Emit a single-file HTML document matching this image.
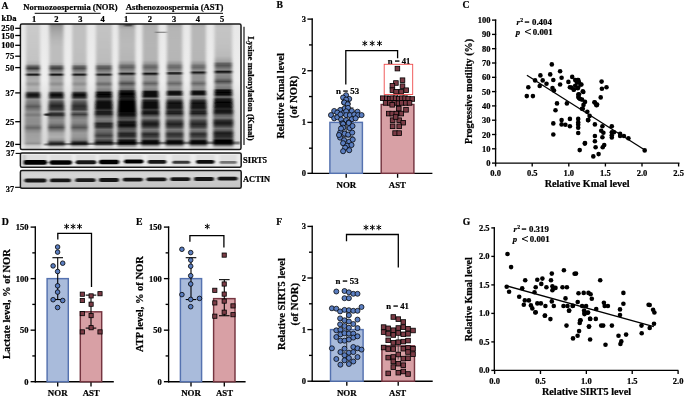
<!DOCTYPE html>
<html><head><meta charset="utf-8"><style>
html,body{margin:0;padding:0;background:#fff;width:685px;height:397px;overflow:hidden}
svg{display:block;will-change:transform}
text{font-family:'Liberation Serif',serif;font-weight:bold;fill:#000;stroke:#000;stroke-width:0.22px}
</style></head><body>
<svg width="685" height="397" viewBox="0 0 685 397">
<rect width="685" height="397" fill="#fff"/>
<defs><linearGradient id="lg_l" x1="0" y1="0" x2="0" y2="1"><stop offset="0" stop-color="#c2c2c2"/><stop offset="0.35" stop-color="#c4c4c4"/><stop offset="0.6" stop-color="#b0b0b0"/><stop offset="0.95" stop-color="#b8b8b8"/><stop offset="1" stop-color="#d8d8d8"/></linearGradient><linearGradient id="lg_d" x1="0" y1="0" x2="0" y2="1"><stop offset="0" stop-color="#bdbdbd"/><stop offset="0.35" stop-color="#c0c0c0"/><stop offset="0.6" stop-color="#8a8a8a"/><stop offset="0.95" stop-color="#909090"/><stop offset="1" stop-color="#d0d0d0"/></linearGradient><linearGradient id="acg" x1="0" y1="0" x2="0" y2="1"><stop offset="0" stop-color="#cfcfcf"/><stop offset="0.3" stop-color="#d6d6d6"/><stop offset="0.55" stop-color="#cacaca"/><stop offset="1" stop-color="#c4c4c4"/></linearGradient></defs>
<defs><filter id="bh" x="-30%" y="-5%" width="160%" height="110%"><feGaussianBlur stdDeviation="1.45 0.45"/></filter><filter id="bs" x="-20%" y="-60%" width="140%" height="220%"><feGaussianBlur stdDeviation="1.0 0.6"/></filter><clipPath id="cm"><rect x="20.4" y="23.9" width="220.6" height="125.69999999999999" rx="1.5"/></clipPath><clipPath id="cs"><rect x="20.4" y="153.0" width="220.8" height="14.3" rx="1.5"/></clipPath><clipPath id="ca"><rect x="20.4" y="170.5" width="220.8" height="17.8" rx="1.5"/></clipPath><linearGradient id="bgv" x1="0" y1="0" x2="0" y2="1"><stop offset="0" stop-color="#e8e8e8"/><stop offset="0.45" stop-color="#eeeeee"/><stop offset="0.62" stop-color="#e0e0e0"/><stop offset="0.93" stop-color="#d8d8d8"/><stop offset="1" stop-color="#ececec"/></linearGradient><linearGradient id="pg_n1" gradientUnits="userSpaceOnUse" x1="0" y1="23.9" x2="0" y2="149.6"><stop offset="0.0000" stop-color="rgb(205,205,205)"/><stop offset="0.0247" stop-color="rgb(202,202,202)"/><stop offset="0.1679" stop-color="rgb(199,199,199)"/><stop offset="0.2872" stop-color="rgb(195,195,195)"/><stop offset="0.3190" stop-color="rgb(180,180,180)"/><stop offset="0.3349" stop-color="rgb(105,105,105)"/><stop offset="0.3540" stop-color="rgb(55,55,55)"/><stop offset="0.3707" stop-color="rgb(120,120,120)"/><stop offset="0.3906" stop-color="rgb(160,160,160)"/><stop offset="0.3986" stop-color="rgb(40,40,40)"/><stop offset="0.4033" stop-color="rgb(25,25,25)"/><stop offset="0.4097" stop-color="rgb(60,60,60)"/><stop offset="0.4193" stop-color="rgb(165,165,165)"/><stop offset="0.4543" stop-color="rgb(175,175,175)"/><stop offset="0.4781" stop-color="rgb(150,150,150)"/><stop offset="0.5020" stop-color="rgb(178,178,178)"/><stop offset="0.5338" stop-color="rgb(170,170,170)"/><stop offset="0.5481" stop-color="rgb(60,60,60)"/><stop offset="0.5656" stop-color="rgb(10,10,10)"/><stop offset="0.5831" stop-color="rgb(45,45,45)"/><stop offset="0.5990" stop-color="rgb(141,141,141)"/><stop offset="0.6333" stop-color="rgb(120,120,120)"/><stop offset="0.6571" stop-color="rgb(90,90,90)"/><stop offset="0.6810" stop-color="rgb(120,120,120)"/><stop offset="0.7009" stop-color="rgb(144,144,144)"/><stop offset="0.7247" stop-color="rgb(120,120,120)"/><stop offset="0.7446" stop-color="rgb(144,144,144)"/><stop offset="0.7963" stop-color="rgb(141,141,141)"/><stop offset="0.8266" stop-color="rgb(103,103,103)"/><stop offset="0.8481" stop-color="rgb(137,137,137)"/><stop offset="0.8759" stop-color="rgb(159,159,159)"/><stop offset="0.9316" stop-color="rgb(163,163,163)"/><stop offset="0.9515" stop-color="rgb(147,147,147)"/><stop offset="0.9714" stop-color="rgb(205,205,205)"/><stop offset="1.0000" stop-color="rgb(215,215,215)"/></linearGradient><linearGradient id="pg_n2" gradientUnits="userSpaceOnUse" x1="0" y1="23.9" x2="0" y2="149.6"><stop offset="0.0000" stop-color="rgb(135,135,135)"/><stop offset="0.0247" stop-color="rgb(155,155,155)"/><stop offset="0.0724" stop-color="rgb(170,170,170)"/><stop offset="0.1281" stop-color="rgb(183,183,183)"/><stop offset="0.1838" stop-color="rgb(189,189,189)"/><stop offset="0.3031" stop-color="rgb(189,189,189)"/><stop offset="0.3230" stop-color="rgb(170,170,170)"/><stop offset="0.3349" stop-color="rgb(100,100,100)"/><stop offset="0.3540" stop-color="rgb(60,60,60)"/><stop offset="0.3707" stop-color="rgb(115,115,115)"/><stop offset="0.3906" stop-color="rgb(155,155,155)"/><stop offset="0.3986" stop-color="rgb(35,35,35)"/><stop offset="0.4033" stop-color="rgb(20,20,20)"/><stop offset="0.4097" stop-color="rgb(55,55,55)"/><stop offset="0.4193" stop-color="rgb(155,155,155)"/><stop offset="0.4543" stop-color="rgb(165,165,165)"/><stop offset="0.4781" stop-color="rgb(140,140,140)"/><stop offset="0.5020" stop-color="rgb(170,170,170)"/><stop offset="0.5338" stop-color="rgb(160,160,160)"/><stop offset="0.5481" stop-color="rgb(45,45,45)"/><stop offset="0.5656" stop-color="rgb(5,5,5)"/><stop offset="0.5847" stop-color="rgb(40,40,40)"/><stop offset="0.6014" stop-color="rgb(129,129,129)"/><stop offset="0.6213" stop-color="rgb(77,77,77)"/><stop offset="0.6531" stop-color="rgb(35,35,35)"/><stop offset="0.6810" stop-color="rgb(60,60,60)"/><stop offset="0.6969" stop-color="rgb(120,120,120)"/><stop offset="0.7128" stop-color="rgb(50,50,50)"/><stop offset="0.7263" stop-color="rgb(40,40,40)"/><stop offset="0.7407" stop-color="rgb(111,111,111)"/><stop offset="0.7645" stop-color="rgb(141,141,141)"/><stop offset="0.7884" stop-color="rgb(133,133,133)"/><stop offset="0.8242" stop-color="rgb(77,77,77)"/><stop offset="0.8441" stop-color="rgb(120,120,120)"/><stop offset="0.8679" stop-color="rgb(163,163,163)"/><stop offset="0.8998" stop-color="rgb(176,176,176)"/><stop offset="0.9236" stop-color="rgb(150,150,150)"/><stop offset="0.9435" stop-color="rgb(60,60,60)"/><stop offset="0.9539" stop-color="rgb(45,45,45)"/><stop offset="0.9658" stop-color="rgb(129,129,129)"/><stop offset="0.9793" stop-color="rgb(205,205,205)"/><stop offset="1.0000" stop-color="rgb(220,220,220)"/></linearGradient><linearGradient id="pg_n3" gradientUnits="userSpaceOnUse" x1="0" y1="23.9" x2="0" y2="149.6"><stop offset="0.0000" stop-color="rgb(185,185,185)"/><stop offset="0.0326" stop-color="rgb(192,192,192)"/><stop offset="0.1679" stop-color="rgb(192,192,192)"/><stop offset="0.3031" stop-color="rgb(189,189,189)"/><stop offset="0.3230" stop-color="rgb(170,170,170)"/><stop offset="0.3349" stop-color="rgb(105,105,105)"/><stop offset="0.3540" stop-color="rgb(75,75,75)"/><stop offset="0.3707" stop-color="rgb(120,120,120)"/><stop offset="0.3906" stop-color="rgb(155,155,155)"/><stop offset="0.3986" stop-color="rgb(40,40,40)"/><stop offset="0.4033" stop-color="rgb(25,25,25)"/><stop offset="0.4097" stop-color="rgb(60,60,60)"/><stop offset="0.4193" stop-color="rgb(155,155,155)"/><stop offset="0.4543" stop-color="rgb(165,165,165)"/><stop offset="0.4781" stop-color="rgb(140,140,140)"/><stop offset="0.5020" stop-color="rgb(170,170,170)"/><stop offset="0.5338" stop-color="rgb(160,160,160)"/><stop offset="0.5481" stop-color="rgb(45,45,45)"/><stop offset="0.5656" stop-color="rgb(5,5,5)"/><stop offset="0.5847" stop-color="rgb(40,40,40)"/><stop offset="0.6014" stop-color="rgb(129,129,129)"/><stop offset="0.6213" stop-color="rgb(86,86,86)"/><stop offset="0.6531" stop-color="rgb(45,45,45)"/><stop offset="0.6810" stop-color="rgb(60,60,60)"/><stop offset="0.6969" stop-color="rgb(120,120,120)"/><stop offset="0.7208" stop-color="rgb(60,60,60)"/><stop offset="0.7407" stop-color="rgb(120,120,120)"/><stop offset="0.7645" stop-color="rgb(141,141,141)"/><stop offset="0.7884" stop-color="rgb(133,133,133)"/><stop offset="0.8242" stop-color="rgb(86,86,86)"/><stop offset="0.8441" stop-color="rgb(124,124,124)"/><stop offset="0.8679" stop-color="rgb(154,154,154)"/><stop offset="0.8998" stop-color="rgb(150,150,150)"/><stop offset="0.9236" stop-color="rgb(129,129,129)"/><stop offset="0.9419" stop-color="rgb(40,40,40)"/><stop offset="0.9539" stop-color="rgb(30,30,30)"/><stop offset="0.9658" stop-color="rgb(129,129,129)"/><stop offset="0.9793" stop-color="rgb(205,205,205)"/><stop offset="1.0000" stop-color="rgb(220,220,220)"/></linearGradient><linearGradient id="pg_n4" gradientUnits="userSpaceOnUse" x1="0" y1="23.9" x2="0" y2="149.6"><stop offset="0.0000" stop-color="rgb(190,190,190)"/><stop offset="0.0326" stop-color="rgb(195,195,195)"/><stop offset="0.1679" stop-color="rgb(192,192,192)"/><stop offset="0.3031" stop-color="rgb(187,187,187)"/><stop offset="0.3230" stop-color="rgb(165,165,165)"/><stop offset="0.3349" stop-color="rgb(105,105,105)"/><stop offset="0.3540" stop-color="rgb(85,85,85)"/><stop offset="0.3707" stop-color="rgb(120,120,120)"/><stop offset="0.3906" stop-color="rgb(150,150,150)"/><stop offset="0.3986" stop-color="rgb(45,45,45)"/><stop offset="0.4033" stop-color="rgb(30,30,30)"/><stop offset="0.4097" stop-color="rgb(65,65,65)"/><stop offset="0.4193" stop-color="rgb(150,150,150)"/><stop offset="0.4543" stop-color="rgb(150,150,150)"/><stop offset="0.4781" stop-color="rgb(105,105,105)"/><stop offset="0.5020" stop-color="rgb(150,150,150)"/><stop offset="0.5322" stop-color="rgb(120,120,120)"/><stop offset="0.5434" stop-color="rgb(20,20,20)"/><stop offset="0.5609" stop-color="rgb(0,0,0)"/><stop offset="0.5800" stop-color="rgb(15,15,15)"/><stop offset="0.5975" stop-color="rgb(77,77,77)"/><stop offset="0.6173" stop-color="rgb(20,20,20)"/><stop offset="0.6452" stop-color="rgb(5,5,5)"/><stop offset="0.6730" stop-color="rgb(20,20,20)"/><stop offset="0.6866" stop-color="rgb(60,60,60)"/><stop offset="0.6969" stop-color="rgb(30,30,30)"/><stop offset="0.7168" stop-color="rgb(25,25,25)"/><stop offset="0.7327" stop-color="rgb(86,86,86)"/><stop offset="0.7566" stop-color="rgb(129,129,129)"/><stop offset="0.7765" stop-color="rgb(111,111,111)"/><stop offset="0.7932" stop-color="rgb(35,35,35)"/><stop offset="0.8202" stop-color="rgb(45,45,45)"/><stop offset="0.8401" stop-color="rgb(111,111,111)"/><stop offset="0.8600" stop-color="rgb(103,103,103)"/><stop offset="0.8878" stop-color="rgb(60,60,60)"/><stop offset="0.9117" stop-color="rgb(103,103,103)"/><stop offset="0.9316" stop-color="rgb(60,60,60)"/><stop offset="0.9451" stop-color="rgb(15,15,15)"/><stop offset="0.9594" stop-color="rgb(94,94,94)"/><stop offset="0.9753" stop-color="rgb(200,200,200)"/><stop offset="1.0000" stop-color="rgb(215,215,215)"/></linearGradient><linearGradient id="pg_a1" gradientUnits="userSpaceOnUse" x1="0" y1="23.9" x2="0" y2="149.6"><stop offset="0.0000" stop-color="rgb(120,120,120)"/><stop offset="0.0167" stop-color="rgb(161,161,161)"/><stop offset="0.0485" stop-color="rgb(181,181,181)"/><stop offset="0.1679" stop-color="rgb(186,186,186)"/><stop offset="0.2872" stop-color="rgb(181,181,181)"/><stop offset="0.3150" stop-color="rgb(150,150,150)"/><stop offset="0.3309" stop-color="rgb(110,110,110)"/><stop offset="0.3461" stop-color="rgb(95,95,95)"/><stop offset="0.3652" stop-color="rgb(130,130,130)"/><stop offset="0.3835" stop-color="rgb(150,150,150)"/><stop offset="0.3914" stop-color="rgb(35,35,35)"/><stop offset="0.3962" stop-color="rgb(25,25,25)"/><stop offset="0.4033" stop-color="rgb(70,70,70)"/><stop offset="0.4145" stop-color="rgb(150,150,150)"/><stop offset="0.4463" stop-color="rgb(140,140,140)"/><stop offset="0.4741" stop-color="rgb(80,80,80)"/><stop offset="0.5020" stop-color="rgb(135,135,135)"/><stop offset="0.5219" stop-color="rgb(110,110,110)"/><stop offset="0.5322" stop-color="rgb(25,25,25)"/><stop offset="0.5537" stop-color="rgb(0,0,0)"/><stop offset="0.5831" stop-color="rgb(15,15,15)"/><stop offset="0.5975" stop-color="rgb(30,30,30)"/><stop offset="0.6134" stop-color="rgb(5,5,5)"/><stop offset="0.6850" stop-color="rgb(0,0,0)"/><stop offset="0.7088" stop-color="rgb(10,10,10)"/><stop offset="0.7287" stop-color="rgb(20,20,20)"/><stop offset="0.7446" stop-color="rgb(68,68,68)"/><stop offset="0.7645" stop-color="rgb(86,86,86)"/><stop offset="0.7804" stop-color="rgb(20,20,20)"/><stop offset="0.8123" stop-color="rgb(15,15,15)"/><stop offset="0.8321" stop-color="rgb(77,77,77)"/><stop offset="0.8520" stop-color="rgb(94,94,94)"/><stop offset="0.8719" stop-color="rgb(40,40,40)"/><stop offset="0.8918" stop-color="rgb(40,40,40)"/><stop offset="0.9117" stop-color="rgb(94,94,94)"/><stop offset="0.9284" stop-color="rgb(15,15,15)"/><stop offset="0.9435" stop-color="rgb(0,0,0)"/><stop offset="0.9554" stop-color="rgb(20,20,20)"/><stop offset="0.9674" stop-color="rgb(129,129,129)"/><stop offset="0.9833" stop-color="rgb(200,200,200)"/><stop offset="1.0000" stop-color="rgb(210,210,210)"/></linearGradient><linearGradient id="pg_a2" gradientUnits="userSpaceOnUse" x1="0" y1="23.9" x2="0" y2="149.6"><stop offset="0.0000" stop-color="rgb(170,170,170)"/><stop offset="0.0326" stop-color="rgb(179,179,179)"/><stop offset="0.1679" stop-color="rgb(181,181,181)"/><stop offset="0.2872" stop-color="rgb(179,179,179)"/><stop offset="0.3150" stop-color="rgb(150,150,150)"/><stop offset="0.3309" stop-color="rgb(115,115,115)"/><stop offset="0.3461" stop-color="rgb(100,100,100)"/><stop offset="0.3652" stop-color="rgb(130,130,130)"/><stop offset="0.3835" stop-color="rgb(150,150,150)"/><stop offset="0.3914" stop-color="rgb(35,35,35)"/><stop offset="0.3962" stop-color="rgb(20,20,20)"/><stop offset="0.4033" stop-color="rgb(60,60,60)"/><stop offset="0.4145" stop-color="rgb(150,150,150)"/><stop offset="0.4463" stop-color="rgb(150,150,150)"/><stop offset="0.4741" stop-color="rgb(100,100,100)"/><stop offset="0.5020" stop-color="rgb(150,150,150)"/><stop offset="0.5259" stop-color="rgb(130,130,130)"/><stop offset="0.5378" stop-color="rgb(20,20,20)"/><stop offset="0.5577" stop-color="rgb(5,5,5)"/><stop offset="0.5776" stop-color="rgb(25,25,25)"/><stop offset="0.5935" stop-color="rgb(120,120,120)"/><stop offset="0.6094" stop-color="rgb(40,40,40)"/><stop offset="0.6293" stop-color="rgb(8,8,8)"/><stop offset="0.6691" stop-color="rgb(15,15,15)"/><stop offset="0.6834" stop-color="rgb(60,60,60)"/><stop offset="0.6945" stop-color="rgb(30,30,30)"/><stop offset="0.7128" stop-color="rgb(20,20,20)"/><stop offset="0.7287" stop-color="rgb(77,77,77)"/><stop offset="0.7486" stop-color="rgb(129,129,129)"/><stop offset="0.7725" stop-color="rgb(60,60,60)"/><stop offset="0.7963" stop-color="rgb(20,20,20)"/><stop offset="0.8202" stop-color="rgb(60,60,60)"/><stop offset="0.8401" stop-color="rgb(120,120,120)"/><stop offset="0.8560" stop-color="rgb(103,103,103)"/><stop offset="0.8759" stop-color="rgb(40,40,40)"/><stop offset="0.8958" stop-color="rgb(60,60,60)"/><stop offset="0.9157" stop-color="rgb(103,103,103)"/><stop offset="0.9300" stop-color="rgb(15,15,15)"/><stop offset="0.9491" stop-color="rgb(5,5,5)"/><stop offset="0.9634" stop-color="rgb(103,103,103)"/><stop offset="0.9793" stop-color="rgb(200,200,200)"/><stop offset="1.0000" stop-color="rgb(215,215,215)"/></linearGradient><linearGradient id="pg_a3" gradientUnits="userSpaceOnUse" x1="0" y1="23.9" x2="0" y2="149.6"><stop offset="0.0000" stop-color="rgb(165,165,165)"/><stop offset="0.0326" stop-color="rgb(181,181,181)"/><stop offset="0.1679" stop-color="rgb(183,183,183)"/><stop offset="0.2872" stop-color="rgb(181,181,181)"/><stop offset="0.3150" stop-color="rgb(150,150,150)"/><stop offset="0.3309" stop-color="rgb(115,115,115)"/><stop offset="0.3461" stop-color="rgb(105,105,105)"/><stop offset="0.3628" stop-color="rgb(130,130,130)"/><stop offset="0.3795" stop-color="rgb(150,150,150)"/><stop offset="0.3874" stop-color="rgb(40,40,40)"/><stop offset="0.3922" stop-color="rgb(25,25,25)"/><stop offset="0.3994" stop-color="rgb(65,65,65)"/><stop offset="0.4105" stop-color="rgb(150,150,150)"/><stop offset="0.4463" stop-color="rgb(150,150,150)"/><stop offset="0.4741" stop-color="rgb(105,105,105)"/><stop offset="0.5020" stop-color="rgb(150,150,150)"/><stop offset="0.5259" stop-color="rgb(140,140,140)"/><stop offset="0.5362" stop-color="rgb(30,30,30)"/><stop offset="0.5513" stop-color="rgb(8,8,8)"/><stop offset="0.5656" stop-color="rgb(30,30,30)"/><stop offset="0.5776" stop-color="rgb(150,150,150)"/><stop offset="0.5935" stop-color="rgb(129,129,129)"/><stop offset="0.6118" stop-color="rgb(50,50,50)"/><stop offset="0.6293" stop-color="rgb(15,15,15)"/><stop offset="0.6691" stop-color="rgb(25,25,25)"/><stop offset="0.6834" stop-color="rgb(60,60,60)"/><stop offset="0.6945" stop-color="rgb(35,35,35)"/><stop offset="0.7128" stop-color="rgb(30,30,30)"/><stop offset="0.7287" stop-color="rgb(86,86,86)"/><stop offset="0.7486" stop-color="rgb(129,129,129)"/><stop offset="0.7725" stop-color="rgb(68,68,68)"/><stop offset="0.7963" stop-color="rgb(30,30,30)"/><stop offset="0.8202" stop-color="rgb(60,60,60)"/><stop offset="0.8401" stop-color="rgb(120,120,120)"/><stop offset="0.8560" stop-color="rgb(103,103,103)"/><stop offset="0.8759" stop-color="rgb(45,45,45)"/><stop offset="0.8958" stop-color="rgb(64,64,64)"/><stop offset="0.9157" stop-color="rgb(103,103,103)"/><stop offset="0.9300" stop-color="rgb(20,20,20)"/><stop offset="0.9491" stop-color="rgb(10,10,10)"/><stop offset="0.9634" stop-color="rgb(103,103,103)"/><stop offset="0.9793" stop-color="rgb(200,200,200)"/><stop offset="1.0000" stop-color="rgb(215,215,215)"/></linearGradient><linearGradient id="pg_a4" gradientUnits="userSpaceOnUse" x1="0" y1="23.9" x2="0" y2="149.6"><stop offset="0.0000" stop-color="rgb(170,170,170)"/><stop offset="0.0326" stop-color="rgb(183,183,183)"/><stop offset="0.1679" stop-color="rgb(183,183,183)"/><stop offset="0.2872" stop-color="rgb(181,181,181)"/><stop offset="0.3150" stop-color="rgb(150,150,150)"/><stop offset="0.3309" stop-color="rgb(115,115,115)"/><stop offset="0.3461" stop-color="rgb(105,105,105)"/><stop offset="0.3612" stop-color="rgb(130,130,130)"/><stop offset="0.3747" stop-color="rgb(150,150,150)"/><stop offset="0.3811" stop-color="rgb(40,40,40)"/><stop offset="0.3858" stop-color="rgb(25,25,25)"/><stop offset="0.3930" stop-color="rgb(65,65,65)"/><stop offset="0.4065" stop-color="rgb(150,150,150)"/><stop offset="0.4463" stop-color="rgb(150,150,150)"/><stop offset="0.4741" stop-color="rgb(105,105,105)"/><stop offset="0.5020" stop-color="rgb(150,150,150)"/><stop offset="0.5243" stop-color="rgb(140,140,140)"/><stop offset="0.5346" stop-color="rgb(30,30,30)"/><stop offset="0.5489" stop-color="rgb(8,8,8)"/><stop offset="0.5632" stop-color="rgb(30,30,30)"/><stop offset="0.5752" stop-color="rgb(150,150,150)"/><stop offset="0.5935" stop-color="rgb(129,129,129)"/><stop offset="0.6094" stop-color="rgb(50,50,50)"/><stop offset="0.6293" stop-color="rgb(15,15,15)"/><stop offset="0.6691" stop-color="rgb(25,25,25)"/><stop offset="0.6834" stop-color="rgb(60,60,60)"/><stop offset="0.6945" stop-color="rgb(35,35,35)"/><stop offset="0.7128" stop-color="rgb(30,30,30)"/><stop offset="0.7287" stop-color="rgb(86,86,86)"/><stop offset="0.7486" stop-color="rgb(129,129,129)"/><stop offset="0.7725" stop-color="rgb(68,68,68)"/><stop offset="0.7963" stop-color="rgb(35,35,35)"/><stop offset="0.8202" stop-color="rgb(60,60,60)"/><stop offset="0.8401" stop-color="rgb(120,120,120)"/><stop offset="0.8560" stop-color="rgb(103,103,103)"/><stop offset="0.8759" stop-color="rgb(40,40,40)"/><stop offset="0.8958" stop-color="rgb(64,64,64)"/><stop offset="0.9157" stop-color="rgb(103,103,103)"/><stop offset="0.9300" stop-color="rgb(15,15,15)"/><stop offset="0.9491" stop-color="rgb(8,8,8)"/><stop offset="0.9634" stop-color="rgb(103,103,103)"/><stop offset="0.9793" stop-color="rgb(200,200,200)"/><stop offset="1.0000" stop-color="rgb(215,215,215)"/></linearGradient><linearGradient id="pg_a5" gradientUnits="userSpaceOnUse" x1="0" y1="23.9" x2="0" y2="149.6"><stop offset="0.0000" stop-color="rgb(185,185,185)"/><stop offset="0.0326" stop-color="rgb(196,196,196)"/><stop offset="0.1679" stop-color="rgb(193,193,193)"/><stop offset="0.2554" stop-color="rgb(186,186,186)"/><stop offset="0.2991" stop-color="rgb(161,161,161)"/><stop offset="0.3150" stop-color="rgb(100,100,100)"/><stop offset="0.3309" stop-color="rgb(85,85,85)"/><stop offset="0.3508" stop-color="rgb(115,115,115)"/><stop offset="0.3683" stop-color="rgb(140,140,140)"/><stop offset="0.3747" stop-color="rgb(30,30,30)"/><stop offset="0.3803" stop-color="rgb(15,15,15)"/><stop offset="0.3874" stop-color="rgb(50,50,50)"/><stop offset="0.4002" stop-color="rgb(140,140,140)"/><stop offset="0.4304" stop-color="rgb(130,130,130)"/><stop offset="0.4582" stop-color="rgb(75,75,75)"/><stop offset="0.4861" stop-color="rgb(140,140,140)"/><stop offset="0.5139" stop-color="rgb(120,120,120)"/><stop offset="0.5259" stop-color="rgb(20,20,20)"/><stop offset="0.5457" stop-color="rgb(5,5,5)"/><stop offset="0.5656" stop-color="rgb(20,20,20)"/><stop offset="0.5815" stop-color="rgb(120,120,120)"/><stop offset="0.5975" stop-color="rgb(30,30,30)"/><stop offset="0.6213" stop-color="rgb(5,5,5)"/><stop offset="0.6611" stop-color="rgb(10,10,10)"/><stop offset="0.6770" stop-color="rgb(40,40,40)"/><stop offset="0.6889" stop-color="rgb(20,20,20)"/><stop offset="0.7088" stop-color="rgb(30,30,30)"/><stop offset="0.7247" stop-color="rgb(94,94,94)"/><stop offset="0.7486" stop-color="rgb(120,120,120)"/><stop offset="0.7685" stop-color="rgb(50,50,50)"/><stop offset="0.7884" stop-color="rgb(20,20,20)"/><stop offset="0.8123" stop-color="rgb(60,60,60)"/><stop offset="0.8321" stop-color="rgb(111,111,111)"/><stop offset="0.8481" stop-color="rgb(86,86,86)"/><stop offset="0.8679" stop-color="rgb(25,25,25)"/><stop offset="0.8918" stop-color="rgb(40,40,40)"/><stop offset="0.9117" stop-color="rgb(60,60,60)"/><stop offset="0.9276" stop-color="rgb(5,5,5)"/><stop offset="0.9499" stop-color="rgb(0,0,0)"/><stop offset="0.9634" stop-color="rgb(86,86,86)"/><stop offset="0.9793" stop-color="rgb(190,190,190)"/><stop offset="1.0000" stop-color="rgb(210,210,210)"/></linearGradient></defs>
<g clip-path="url(#cm)">
<rect x="20.4" y="23.9" width="220.6" height="125.69999999999999" fill="url(#bgv)"/>
<g filter="url(#bh)">
<path d="M26.0,21.9 L40.0,21.9 L40.0,90 L41.3,115 L41.3,151.6 L24.7,151.6 L24.7,115 L26.0,90 Z" fill="url(#pg_n1)"/>
<path d="M49.3,21.9 L63.5,21.9 L63.5,90 L64.8,115 L64.8,151.6 L48.0,151.6 L48.0,115 L49.3,90 Z" fill="url(#pg_n2)"/>
<path d="M72.2,21.9 L86.6,21.9 L86.6,90 L87.9,115 L87.9,151.6 L70.9,151.6 L70.9,115 L72.2,90 Z" fill="url(#pg_n3)"/>
<path d="M95.9,21.9 L111.9,21.9 L111.9,90 L113.2,115 L113.2,151.6 L94.6,151.6 L94.6,115 L95.9,90 Z" fill="url(#pg_n4)"/>
<path d="M118.7,21.9 L135.3,21.9 L135.3,90 L136.6,115 L136.6,151.6 L117.4,151.6 L117.4,115 L118.7,90 Z" fill="url(#pg_a1)"/>
<path d="M142.5,21.9 L158.3,21.9 L158.3,90 L159.6,115 L159.6,151.6 L141.2,151.6 L141.2,115 L142.5,90 Z" fill="url(#pg_a2)"/>
<path d="M166.9,21.9 L182.3,21.9 L182.3,90 L183.6,115 L183.6,151.6 L165.6,151.6 L165.6,115 L166.9,90 Z" fill="url(#pg_a3)"/>
<path d="M190.9,21.9 L205.9,21.9 L205.9,90 L207.2,115 L207.2,151.6 L189.6,151.6 L189.6,115 L190.9,90 Z" fill="url(#pg_a4)"/>
<path d="M214.5,21.9 L232.1,21.9 L232.1,90 L233.4,115 L233.4,151.6 L213.2,151.6 L213.2,115 L214.5,90 Z" fill="url(#pg_a5)"/>
</g>
<g filter="url(#bs)">
<path d="M44,143.6 Q140,141.2 240,141.6 L240,144.4 Q140,144.2 44,145.6 Z" fill="#000" opacity="0.45"/>
<rect x="155.5" y="31.7" width="11" height="1.2" fill="#222" opacity="0.5"/>
<rect x="124.5" y="24" width="7.5" height="2.4" fill="#222" opacity="0.6"/>
<rect x="44" y="113.5" width="6" height="2.2" rx="1" fill="#000" opacity="0.8"/>
</g>
</g>
<rect x="20.4" y="23.9" width="220.6" height="125.69999999999999" rx="1.5" fill="none" stroke="#1a1a1a" stroke-width="1.5"/>
<g clip-path="url(#cs)">
<rect x="20.4" y="153.0" width="220.8" height="14.3" fill="#ececec"/>
<g filter="url(#bs)">
<rect x="22.4" y="155.0" width="4.0" height="11" fill="rgb(200,200,200)"/>
<rect x="26.0" y="155.0" width="21.2" height="11" fill="rgb(222,222,222)"/>
<rect x="49.7" y="155.0" width="22.0" height="11" fill="rgb(222,222,222)"/>
<rect x="75.8" y="155.0" width="20.0" height="11" fill="rgb(222,222,222)"/>
<rect x="99.2" y="155.0" width="20.6" height="11" fill="rgb(222,222,222)"/>
<rect x="123.5" y="155.0" width="19.0" height="11" fill="rgb(222,222,222)"/>
<rect x="147.60000000000002" y="155.0" width="18.4" height="11" fill="rgb(222,222,222)"/>
<rect x="171.8" y="155.0" width="18.4" height="11" fill="rgb(222,222,222)"/>
<rect x="195.9" y="155.0" width="18.8" height="11" fill="rgb(222,222,222)"/>
<rect x="219.6" y="155.0" width="17.2" height="11" fill="rgb(222,222,222)"/>
<rect x="23.000000000000004" y="160.0" width="24.4" height="4.8" rx="2.4" fill="rgb(0,0,0)"/>
<rect x="49.300000000000004" y="160.2" width="22.8" height="4.6" rx="2.3" fill="rgb(5,5,5)"/>
<rect x="75.5" y="160.3" width="20.8" height="4.0" rx="2.0" fill="rgb(20,20,20)"/>
<rect x="98.8" y="159.8" width="20.8" height="4.4" rx="2.2" fill="rgb(5,5,5)"/>
<rect x="123.6" y="159.4" width="20.0" height="4.2" rx="2.1" fill="rgb(5,5,5)"/>
<rect x="147.5" y="160.1" width="19.0" height="3.6" rx="1.8" fill="rgb(20,20,20)"/>
<rect x="172.2" y="160.7" width="18.0" height="3.0" rx="1.5" fill="rgb(55,55,55)"/>
<rect x="195.8" y="159.9" width="19.0" height="3.8" rx="1.9" fill="rgb(15,15,15)"/>
<rect x="219.6" y="161.1" width="17.2" height="2.6" rx="1.3" fill="rgb(115,115,115)"/>
</g></g>
<rect x="20.4" y="153.0" width="220.8" height="14.3" rx="1.5" fill="none" stroke="#1a1a1a" stroke-width="1.5"/>
<g clip-path="url(#ca)">
<rect x="20.4" y="170.5" width="220.8" height="17.8" fill="url(#acg)"/>
<g filter="url(#bs)">
<rect x="24.5" y="178.6" width="22.0" height="3.8" rx="1.9" fill="rgb(25,25,25)"/>
<rect x="50.0" y="178.5" width="21.0" height="3.8" rx="1.9" fill="rgb(25,25,25)"/>
<rect x="75.30000000000001" y="178.29999999999998" width="20.2" height="3.8" rx="1.9" fill="rgb(30,30,30)"/>
<rect x="99.0" y="178.1" width="20.0" height="3.8" rx="1.9" fill="rgb(25,25,25)"/>
<rect x="122.80000000000001" y="177.7" width="20.0" height="3.8" rx="1.9" fill="rgb(25,25,25)"/>
<rect x="146.5" y="177.4" width="20.0" height="3.8" rx="1.9" fill="rgb(25,25,25)"/>
<rect x="170.3" y="177.2" width="20.0" height="3.8" rx="1.9" fill="rgb(25,25,25)"/>
<rect x="194.0" y="177.1" width="20.0" height="3.8" rx="1.9" fill="rgb(25,25,25)"/>
<rect x="217.6" y="176.7" width="20.0" height="3.8" rx="1.9" fill="rgb(20,20,20)"/>
</g></g>
<rect x="20.4" y="170.5" width="220.8" height="17.8" rx="1.5" fill="none" stroke="#1a1a1a" stroke-width="1.5"/>
<text x="1.5" y="8.7" font-size="9.6" text-anchor="start">A</text>
<text x="1.5" y="20.5" font-size="8.5" text-anchor="start">kDa</text>
<text x="70.4" y="10.0" font-size="8.56" text-anchor="middle">Normozoospermia (NOR)</text>
<line x1="34.7" y1="13.3" x2="100.6" y2="13.3" stroke="#000" stroke-width="1.0"/>
<text x="174.6" y="10.0" font-size="8.69" text-anchor="middle">Asthenozoospermia (AST)</text>
<line x1="125.7" y1="13.3" x2="223.0" y2="13.3" stroke="#000" stroke-width="1.0"/>
<text x="34.2" y="22.3" font-size="8.5" text-anchor="middle">1</text>
<text x="56.3" y="22.3" font-size="8.5" text-anchor="middle">2</text>
<text x="80.4" y="22.3" font-size="8.5" text-anchor="middle">3</text>
<text x="102.5" y="22.3" font-size="8.5" text-anchor="middle">4</text>
<text x="126.1" y="22.3" font-size="8.5" text-anchor="middle">1</text>
<text x="149.8" y="22.3" font-size="8.5" text-anchor="middle">2</text>
<text x="174.0" y="22.3" font-size="8.5" text-anchor="middle">3</text>
<text x="197.8" y="22.3" font-size="8.5" text-anchor="middle">4</text>
<text x="222.2" y="22.3" font-size="8.5" text-anchor="middle">5</text>
<line x1="15.2" y1="28.3" x2="20.4" y2="28.3" stroke="#000" stroke-width="1.3"/>
<text x="14.2" y="31.3" font-size="8.6" text-anchor="end">250</text>
<line x1="15.2" y1="35.5" x2="20.4" y2="35.5" stroke="#000" stroke-width="1.3"/>
<text x="14.2" y="38.5" font-size="8.6" text-anchor="end">150</text>
<line x1="15.2" y1="45.3" x2="20.4" y2="45.3" stroke="#000" stroke-width="1.3"/>
<text x="14.2" y="48.3" font-size="8.6" text-anchor="end">100</text>
<line x1="15.2" y1="56.2" x2="20.4" y2="56.2" stroke="#000" stroke-width="1.3"/>
<text x="14.2" y="59.2" font-size="8.6" text-anchor="end">75</text>
<line x1="15.2" y1="67.6" x2="20.4" y2="67.6" stroke="#000" stroke-width="1.3"/>
<text x="14.2" y="70.6" font-size="8.6" text-anchor="end">50</text>
<line x1="15.2" y1="92.9" x2="20.4" y2="92.9" stroke="#000" stroke-width="1.3"/>
<text x="14.2" y="95.9" font-size="8.6" text-anchor="end">37</text>
<line x1="15.2" y1="121.7" x2="20.4" y2="121.7" stroke="#000" stroke-width="1.3"/>
<text x="14.2" y="124.7" font-size="8.6" text-anchor="end">25</text>
<line x1="15.2" y1="144.4" x2="20.4" y2="144.4" stroke="#000" stroke-width="1.3"/>
<text x="14.2" y="147.4" font-size="8.6" text-anchor="end">20</text>
<line x1="15.6" y1="153.4" x2="20.4" y2="153.4" stroke="#000" stroke-width="1.1"/>
<text x="14.6" y="156.3" font-size="8.3" text-anchor="end">37</text>
<line x1="15.1" y1="187.3" x2="20.4" y2="187.3" stroke="#000" stroke-width="1.1"/>
<text x="14.1" y="192.3" font-size="8.3" text-anchor="end">37</text>
<line x1="244.0" y1="26.8" x2="244.0" y2="145.0" stroke="#000" stroke-width="1.1"/>
<text x="247.8" y="88.4" font-size="8.75" text-anchor="middle" transform="rotate(90 247.8 88.4)">Lysine malonylation (Kmal)</text>
<text x="243.1" y="163.0" font-size="8.5" text-anchor="start">SIRT5</text>
<text x="243.1" y="181.7" font-size="8.35" text-anchor="start">ACTIN</text>
<text x="276.6" y="7.8" font-size="9.6" text-anchor="start">B</text>
<line x1="312.2" y1="173.9" x2="312.2" y2="18.509999999999984" stroke="#000" stroke-width="1.35"/>
<line x1="307.4" y1="173.3" x2="312.8" y2="173.3" stroke="#000" stroke-width="1.35"/>
<text x="306.0" y="176.3" font-size="8.5" text-anchor="end">0</text>
<line x1="307.4" y1="122.37" x2="312.8" y2="122.37" stroke="#000" stroke-width="1.35"/>
<text x="306.0" y="125.37" font-size="8.5" text-anchor="end">1</text>
<line x1="307.4" y1="70.74" x2="312.8" y2="70.74" stroke="#000" stroke-width="1.35"/>
<text x="306.0" y="73.74" font-size="8.5" text-anchor="end">2</text>
<line x1="307.4" y1="19.109999999999985" x2="312.8" y2="19.109999999999985" stroke="#000" stroke-width="1.35"/>
<text x="306.0" y="22.109999999999985" font-size="8.5" text-anchor="end">3</text>
<line x1="309.0" y1="148.185" x2="312.2" y2="148.185" stroke="#000" stroke-width="1.35"/>
<line x1="309.0" y1="96.55499999999999" x2="312.2" y2="96.55499999999999" stroke="#000" stroke-width="1.35"/>
<line x1="309.0" y1="44.92499999999998" x2="312.2" y2="44.92499999999998" stroke="#000" stroke-width="1.35"/>
<line x1="311.59999999999997" y1="173.3" x2="432.4" y2="173.3" stroke="#000" stroke-width="1.35"/>
<line x1="346.2" y1="173.3" x2="346.2" y2="177.8" stroke="#000" stroke-width="1.35"/>
<line x1="397.6" y1="173.3" x2="397.6" y2="177.8" stroke="#000" stroke-width="1.35"/>
<text x="346.4" y="187.9" font-size="8.9" text-anchor="middle">NOR</text>
<text x="397.4" y="187.9" font-size="8.8" text-anchor="middle">AST</text>
<text x="284.3" y="95.9" font-size="10.25" text-anchor="middle" transform="rotate(-90 284.3 95.9)">Relative Kmal level</text>
<text x="296.6" y="96.9" font-size="10.7" text-anchor="middle" transform="rotate(-90 296.6 96.9)">(of NOR)</text>
<rect x="329.9" y="122.37" width="32.5" height="50.93000000000001" fill="#a9bbdb" stroke="#5572b0" stroke-width="1.45"/>
<rect x="381.2" y="104.5" width="32.69999999999999" height="68.80000000000001" fill="#d8a0a5" stroke="#753540" stroke-width="1.45"/>
<line x1="346.2" y1="136.8264" x2="346.2" y2="107.9136" stroke="#222" stroke-width="0.9"/>
<line x1="339" y1="107.9136" x2="353.5" y2="107.9136" stroke="#222" stroke-width="0.9"/>
<line x1="339" y1="136.8264" x2="353.5" y2="136.8264" stroke="#222" stroke-width="0.9"/>
<line x1="397.6" y1="118.2396" x2="397.6" y2="91.392" stroke="#444" stroke-width="0.9"/>
<circle cx="346.1" cy="95.2" r="2.55" fill="#5b7ec0" stroke="#000" stroke-width="0.75"/>
<circle cx="343.1" cy="97.6" r="2.55" fill="#5b7ec0" stroke="#000" stroke-width="0.75"/>
<circle cx="349.2" cy="98.9" r="2.55" fill="#5b7ec0" stroke="#000" stroke-width="0.75"/>
<circle cx="346.1" cy="99.6" r="2.55" fill="#5b7ec0" stroke="#000" stroke-width="0.75"/>
<circle cx="344.1" cy="102.6" r="2.55" fill="#5b7ec0" stroke="#000" stroke-width="0.75"/>
<circle cx="347.6" cy="103.6" r="2.55" fill="#5b7ec0" stroke="#000" stroke-width="0.75"/>
<circle cx="344.3" cy="102.5" r="2.55" fill="#5b7ec0" stroke="#000" stroke-width="0.75"/>
<circle cx="347.7" cy="104.3" r="2.55" fill="#5b7ec0" stroke="#000" stroke-width="0.75"/>
<circle cx="344.6" cy="108.5" r="2.55" fill="#5b7ec0" stroke="#000" stroke-width="0.75"/>
<circle cx="348.0" cy="107.9" r="2.55" fill="#5b7ec0" stroke="#000" stroke-width="0.75"/>
<circle cx="334.2" cy="111.0" r="2.55" fill="#5b7ec0" stroke="#000" stroke-width="0.75"/>
<circle cx="340.2" cy="110.1" r="2.55" fill="#5b7ec0" stroke="#000" stroke-width="0.75"/>
<circle cx="337.3" cy="112.6" r="2.55" fill="#5b7ec0" stroke="#000" stroke-width="0.75"/>
<circle cx="343.0" cy="113.2" r="2.55" fill="#5b7ec0" stroke="#000" stroke-width="0.75"/>
<circle cx="346.2" cy="111.3" r="2.55" fill="#5b7ec0" stroke="#000" stroke-width="0.75"/>
<circle cx="351.8" cy="111.0" r="2.55" fill="#5b7ec0" stroke="#000" stroke-width="0.75"/>
<circle cx="357.5" cy="111.7" r="2.55" fill="#5b7ec0" stroke="#000" stroke-width="0.75"/>
<circle cx="331.0" cy="115.1" r="2.55" fill="#5b7ec0" stroke="#000" stroke-width="0.75"/>
<circle cx="334.2" cy="118.3" r="2.55" fill="#5b7ec0" stroke="#000" stroke-width="0.75"/>
<circle cx="337.3" cy="117.3" r="2.55" fill="#5b7ec0" stroke="#000" stroke-width="0.75"/>
<circle cx="340.5" cy="114.5" r="2.55" fill="#5b7ec0" stroke="#000" stroke-width="0.75"/>
<circle cx="346.2" cy="115.1" r="2.55" fill="#5b7ec0" stroke="#000" stroke-width="0.75"/>
<circle cx="349.9" cy="115.1" r="2.55" fill="#5b7ec0" stroke="#000" stroke-width="0.75"/>
<circle cx="354.3" cy="114.5" r="2.55" fill="#5b7ec0" stroke="#000" stroke-width="0.75"/>
<circle cx="358.1" cy="115.1" r="2.55" fill="#5b7ec0" stroke="#000" stroke-width="0.75"/>
<circle cx="361.6" cy="115.1" r="2.55" fill="#5b7ec0" stroke="#000" stroke-width="0.75"/>
<circle cx="341.1" cy="119.5" r="2.55" fill="#5b7ec0" stroke="#000" stroke-width="0.75"/>
<circle cx="346.2" cy="120.2" r="2.55" fill="#5b7ec0" stroke="#000" stroke-width="0.75"/>
<circle cx="351.8" cy="119.2" r="2.55" fill="#5b7ec0" stroke="#000" stroke-width="0.75"/>
<circle cx="355.6" cy="118.3" r="2.55" fill="#5b7ec0" stroke="#000" stroke-width="0.75"/>
<circle cx="342.4" cy="123.3" r="2.55" fill="#5b7ec0" stroke="#000" stroke-width="0.75"/>
<circle cx="348.7" cy="122.4" r="2.55" fill="#5b7ec0" stroke="#000" stroke-width="0.75"/>
<circle cx="343.1" cy="124.0" r="2.55" fill="#5b7ec0" stroke="#000" stroke-width="0.75"/>
<circle cx="348.7" cy="123.0" r="2.55" fill="#5b7ec0" stroke="#000" stroke-width="0.75"/>
<circle cx="343.1" cy="127.6" r="2.55" fill="#5b7ec0" stroke="#000" stroke-width="0.75"/>
<circle cx="349.7" cy="128.1" r="2.55" fill="#5b7ec0" stroke="#000" stroke-width="0.75"/>
<circle cx="340.1" cy="132.6" r="2.55" fill="#5b7ec0" stroke="#000" stroke-width="0.75"/>
<circle cx="344.6" cy="133.6" r="2.55" fill="#5b7ec0" stroke="#000" stroke-width="0.75"/>
<circle cx="348.2" cy="134.6" r="2.55" fill="#5b7ec0" stroke="#000" stroke-width="0.75"/>
<circle cx="352.2" cy="132.6" r="2.55" fill="#5b7ec0" stroke="#000" stroke-width="0.75"/>
<circle cx="340.1" cy="137.6" r="2.55" fill="#5b7ec0" stroke="#000" stroke-width="0.75"/>
<circle cx="344.1" cy="140.2" r="2.55" fill="#5b7ec0" stroke="#000" stroke-width="0.75"/>
<circle cx="349.2" cy="141.7" r="2.55" fill="#5b7ec0" stroke="#000" stroke-width="0.75"/>
<circle cx="352.7" cy="139.6" r="2.55" fill="#5b7ec0" stroke="#000" stroke-width="0.75"/>
<circle cx="343.1" cy="143.2" r="2.55" fill="#5b7ec0" stroke="#000" stroke-width="0.75"/>
<circle cx="347.1" cy="145.7" r="2.55" fill="#5b7ec0" stroke="#000" stroke-width="0.75"/>
<circle cx="345.1" cy="147.7" r="2.55" fill="#5b7ec0" stroke="#000" stroke-width="0.75"/>
<circle cx="343.1" cy="151.2" r="2.55" fill="#5b7ec0" stroke="#000" stroke-width="0.75"/>
<circle cx="349.2" cy="150.2" r="2.55" fill="#5b7ec0" stroke="#000" stroke-width="0.75"/>
<circle cx="352.5" cy="126.0" r="2.55" fill="#5b7ec0" stroke="#000" stroke-width="0.75"/>
<circle cx="341.0" cy="128.5" r="2.55" fill="#5b7ec0" stroke="#000" stroke-width="0.75"/>
<circle cx="351.5" cy="145.0" r="2.55" fill="#5b7ec0" stroke="#000" stroke-width="0.75"/>
<circle cx="339.0" cy="135.0" r="2.55" fill="#5b7ec0" stroke="#000" stroke-width="0.75"/>
<rect x="395.1" y="66.3" width="4.6" height="4.6" fill="#7b3b45" stroke="#000" stroke-width="0.8"/>
<rect x="400.2" y="77.9" width="4.6" height="4.6" fill="#7b3b45" stroke="#000" stroke-width="0.8"/>
<rect x="393.6" y="80.7" width="4.6" height="4.6" fill="#7b3b45" stroke="#000" stroke-width="0.8"/>
<rect x="390.1" y="83.4" width="4.6" height="4.6" fill="#7b3b45" stroke="#000" stroke-width="0.8"/>
<rect x="400.2" y="83.9" width="4.6" height="4.6" fill="#7b3b45" stroke="#000" stroke-width="0.8"/>
<rect x="403.9" y="87.9" width="4.6" height="4.6" fill="#7b3b45" stroke="#000" stroke-width="0.8"/>
<rect x="390.1" y="87.9" width="4.6" height="4.6" fill="#7b3b45" stroke="#000" stroke-width="0.8"/>
<rect x="393.8" y="89.4" width="4.6" height="4.6" fill="#7b3b45" stroke="#000" stroke-width="0.8"/>
<rect x="398.9" y="89.4" width="4.6" height="4.6" fill="#7b3b45" stroke="#000" stroke-width="0.8"/>
<rect x="380.4" y="95.9" width="4.6" height="4.6" fill="#7b3b45" stroke="#000" stroke-width="0.8"/>
<rect x="384.5" y="95.9" width="4.6" height="4.6" fill="#7b3b45" stroke="#000" stroke-width="0.8"/>
<rect x="387.4" y="96.3" width="4.6" height="4.6" fill="#7b3b45" stroke="#000" stroke-width="0.8"/>
<rect x="390.1" y="95.9" width="4.6" height="4.6" fill="#7b3b45" stroke="#000" stroke-width="0.8"/>
<rect x="393.3" y="95.9" width="4.6" height="4.6" fill="#7b3b45" stroke="#000" stroke-width="0.8"/>
<rect x="396.5" y="96.3" width="4.6" height="4.6" fill="#7b3b45" stroke="#000" stroke-width="0.8"/>
<rect x="399.6" y="95.9" width="4.6" height="4.6" fill="#7b3b45" stroke="#000" stroke-width="0.8"/>
<rect x="402.8" y="95.9" width="4.6" height="4.6" fill="#7b3b45" stroke="#000" stroke-width="0.8"/>
<rect x="405.9" y="96.3" width="4.6" height="4.6" fill="#7b3b45" stroke="#000" stroke-width="0.8"/>
<rect x="410.0" y="96.7" width="4.6" height="4.6" fill="#7b3b45" stroke="#000" stroke-width="0.8"/>
<rect x="383.3" y="100.6" width="4.6" height="4.6" fill="#7b3b45" stroke="#000" stroke-width="0.8"/>
<rect x="387.4" y="100.6" width="4.6" height="4.6" fill="#7b3b45" stroke="#000" stroke-width="0.8"/>
<rect x="392.7" y="100.6" width="4.6" height="4.6" fill="#7b3b45" stroke="#000" stroke-width="0.8"/>
<rect x="396.2" y="100.9" width="4.6" height="4.6" fill="#7b3b45" stroke="#000" stroke-width="0.8"/>
<rect x="399.6" y="100.6" width="4.6" height="4.6" fill="#7b3b45" stroke="#000" stroke-width="0.8"/>
<rect x="403.4" y="100.6" width="4.6" height="4.6" fill="#7b3b45" stroke="#000" stroke-width="0.8"/>
<rect x="407.2" y="100.6" width="4.6" height="4.6" fill="#7b3b45" stroke="#000" stroke-width="0.8"/>
<rect x="389.9" y="102.5" width="4.6" height="4.6" fill="#7b3b45" stroke="#000" stroke-width="0.8"/>
<rect x="396.5" y="106.3" width="4.6" height="4.6" fill="#7b3b45" stroke="#000" stroke-width="0.8"/>
<rect x="403.7" y="107.5" width="4.6" height="4.6" fill="#7b3b45" stroke="#000" stroke-width="0.8"/>
<rect x="386.4" y="111.3" width="4.6" height="4.6" fill="#7b3b45" stroke="#000" stroke-width="0.8"/>
<rect x="389.9" y="111.3" width="4.6" height="4.6" fill="#7b3b45" stroke="#000" stroke-width="0.8"/>
<rect x="394.0" y="111.3" width="4.6" height="4.6" fill="#7b3b45" stroke="#000" stroke-width="0.8"/>
<rect x="399.0" y="111.3" width="4.6" height="4.6" fill="#7b3b45" stroke="#000" stroke-width="0.8"/>
<rect x="390.3" y="117.9" width="4.6" height="4.6" fill="#7b3b45" stroke="#000" stroke-width="0.8"/>
<rect x="396.9" y="117.9" width="4.6" height="4.6" fill="#7b3b45" stroke="#000" stroke-width="0.8"/>
<rect x="400.9" y="120.4" width="4.6" height="4.6" fill="#7b3b45" stroke="#000" stroke-width="0.8"/>
<rect x="390.3" y="124.0" width="4.6" height="4.6" fill="#7b3b45" stroke="#000" stroke-width="0.8"/>
<rect x="396.9" y="124.0" width="4.6" height="4.6" fill="#7b3b45" stroke="#000" stroke-width="0.8"/>
<rect x="392.8" y="130.8" width="4.6" height="4.6" fill="#7b3b45" stroke="#000" stroke-width="0.8"/>
<rect x="396.9" y="130.8" width="4.6" height="4.6" fill="#7b3b45" stroke="#000" stroke-width="0.8"/>
<rect x="393.3" y="114.7" width="4.6" height="4.6" fill="#7b3b45" stroke="#000" stroke-width="0.8"/>
<polyline points="345.8,84.4 345.8,50.7 397.6,50.7 397.6,58.2" fill="none" stroke="#000" stroke-width="1.3"/>
<path d="M364.80,40.65L364.80,46.15M362.42,42.02L367.18,44.77M367.18,42.02L362.42,44.77" stroke="#000" stroke-width="1.0" fill="none"/>
<path d="M372.20,40.65L372.20,46.15M369.82,42.02L374.58,44.77M374.58,42.02L369.82,44.77" stroke="#000" stroke-width="1.0" fill="none"/>
<path d="M379.50,40.65L379.50,46.15M377.12,42.02L381.88,44.77M381.88,42.02L377.12,44.77" stroke="#000" stroke-width="1.0" fill="none"/>
<text x="347.6" y="93.9" font-size="8.87" text-anchor="middle">n = 53</text>
<text x="399.1" y="63.7" font-size="8.64" text-anchor="middle">n = 41</text>
<rect x="384.2" y="64.3" width="28.5" height="30.2" fill="none" stroke="#ee4b4b" stroke-width="0.9"/>
<text x="462.5" y="8.1" font-size="9.6" text-anchor="start">C</text>
<line x1="495.6" y1="163.7" x2="495.6" y2="19.499999999999993" stroke="#000" stroke-width="1.35"/>
<line x1="492.0" y1="163.1" x2="496.20000000000005" y2="163.1" stroke="#000" stroke-width="1.35"/>
<text x="490.4" y="166.1" font-size="8.5" text-anchor="end">0</text>
<line x1="492.0" y1="148.79999999999998" x2="496.20000000000005" y2="148.79999999999998" stroke="#000" stroke-width="1.35"/>
<text x="490.4" y="151.79999999999998" font-size="8.5" text-anchor="end">10</text>
<line x1="492.0" y1="134.5" x2="496.20000000000005" y2="134.5" stroke="#000" stroke-width="1.35"/>
<text x="490.4" y="137.5" font-size="8.5" text-anchor="end">20</text>
<line x1="492.0" y1="120.19999999999999" x2="496.20000000000005" y2="120.19999999999999" stroke="#000" stroke-width="1.35"/>
<text x="490.4" y="123.19999999999999" font-size="8.5" text-anchor="end">30</text>
<line x1="492.0" y1="105.9" x2="496.20000000000005" y2="105.9" stroke="#000" stroke-width="1.35"/>
<text x="490.4" y="108.9" font-size="8.5" text-anchor="end">40</text>
<line x1="492.0" y1="91.6" x2="496.20000000000005" y2="91.6" stroke="#000" stroke-width="1.35"/>
<text x="490.4" y="94.6" font-size="8.5" text-anchor="end">50</text>
<line x1="492.0" y1="77.3" x2="496.20000000000005" y2="77.3" stroke="#000" stroke-width="1.35"/>
<text x="490.4" y="80.3" font-size="8.5" text-anchor="end">60</text>
<line x1="492.0" y1="63.0" x2="496.20000000000005" y2="63.0" stroke="#000" stroke-width="1.35"/>
<text x="490.4" y="66.0" font-size="8.5" text-anchor="end">70</text>
<line x1="492.0" y1="48.7" x2="496.20000000000005" y2="48.7" stroke="#000" stroke-width="1.35"/>
<text x="490.4" y="51.7" font-size="8.5" text-anchor="end">80</text>
<line x1="492.0" y1="34.400000000000006" x2="496.20000000000005" y2="34.400000000000006" stroke="#000" stroke-width="1.35"/>
<text x="490.4" y="37.400000000000006" font-size="8.5" text-anchor="end">90</text>
<line x1="492.0" y1="20.099999999999994" x2="496.20000000000005" y2="20.099999999999994" stroke="#000" stroke-width="1.35"/>
<text x="490.4" y="23.099999999999994" font-size="8.5" text-anchor="end">100</text>
<line x1="495.0" y1="163.1" x2="679.5" y2="163.1" stroke="#000" stroke-width="1.35"/>
<line x1="495.6" y1="163.1" x2="495.6" y2="166.5" stroke="#000" stroke-width="1.35"/>
<text x="495.6" y="176.3" font-size="8.5" text-anchor="middle">0.0</text>
<line x1="532.2" y1="163.1" x2="532.2" y2="166.5" stroke="#000" stroke-width="1.35"/>
<text x="532.2" y="176.3" font-size="8.5" text-anchor="middle">0.5</text>
<line x1="568.8000000000001" y1="163.1" x2="568.8000000000001" y2="166.5" stroke="#000" stroke-width="1.35"/>
<text x="568.8000000000001" y="176.3" font-size="8.5" text-anchor="middle">1.0</text>
<line x1="605.4000000000001" y1="163.1" x2="605.4000000000001" y2="166.5" stroke="#000" stroke-width="1.35"/>
<text x="605.4000000000001" y="176.3" font-size="8.5" text-anchor="middle">1.5</text>
<line x1="642.0" y1="163.1" x2="642.0" y2="166.5" stroke="#000" stroke-width="1.35"/>
<text x="642.0" y="176.3" font-size="8.5" text-anchor="middle">2.0</text>
<line x1="678.6" y1="163.1" x2="678.6" y2="166.5" stroke="#000" stroke-width="1.35"/>
<text x="678.6" y="176.3" font-size="8.5" text-anchor="middle">2.5</text>
<text x="587.1" y="187.3" font-size="10.2" text-anchor="middle">Relative Kmal level</text>
<text x="472.2" y="91.5" font-size="10.1" text-anchor="middle" transform="rotate(-90 472.2 91.5)">Progressive motility (%)</text>
<text x="516.4" y="25.2" font-size="8.8" font-style="italic">r</text>
<text x="520.3" y="21.9" font-size="5.8">2</text>
<text x="524.4" y="25.2" font-size="8.8">=</text>
<text x="532.0" y="25.2" font-size="8.8">0.404</text>
<text x="515.8" y="34.6" font-size="8.8" font-style="italic">p</text>
<polyline points="531.0,29.200000000000003 525.0,31.700000000000003 531.0,34.2" fill="none" stroke="#000" stroke-width="0.95"/>
<text x="532.8" y="34.6" font-size="8.8">0.001</text>
<circle cx="551.8" cy="64.4" r="2.3" fill="#000"/>
<circle cx="560.1" cy="71.3" r="2.3" fill="#000"/>
<circle cx="550.2" cy="74.4" r="2.3" fill="#000"/>
<circle cx="540.4" cy="75.4" r="2.3" fill="#000"/>
<circle cx="561.6" cy="77.7" r="2.3" fill="#000"/>
<circle cx="572.2" cy="76.9" r="2.3" fill="#000"/>
<circle cx="535.1" cy="80.4" r="2.3" fill="#000"/>
<circle cx="542.7" cy="80.4" r="2.3" fill="#000"/>
<circle cx="553.3" cy="80" r="2.3" fill="#000"/>
<circle cx="568.4" cy="81.9" r="2.3" fill="#000"/>
<circle cx="577.5" cy="80" r="2.3" fill="#000"/>
<circle cx="546.5" cy="83.7" r="2.3" fill="#000"/>
<circle cx="560.1" cy="84.5" r="2.3" fill="#000"/>
<circle cx="580.5" cy="84.5" r="2.3" fill="#000"/>
<circle cx="539.7" cy="86" r="2.3" fill="#000"/>
<circle cx="528.3" cy="87.2" r="2.3" fill="#000"/>
<circle cx="552.5" cy="88" r="2.3" fill="#000"/>
<circle cx="569.9" cy="87.2" r="2.3" fill="#000"/>
<circle cx="573.7" cy="89.8" r="2.3" fill="#000"/>
<circle cx="578.2" cy="87.5" r="2.3" fill="#000"/>
<circle cx="554" cy="90.5" r="2.3" fill="#000"/>
<circle cx="582.8" cy="91.3" r="2.3" fill="#000"/>
<circle cx="579" cy="94.3" r="2.3" fill="#000"/>
<circle cx="526.8" cy="96.1" r="2.3" fill="#000"/>
<circle cx="532.9" cy="96.1" r="2.3" fill="#000"/>
<circle cx="579" cy="98.1" r="2.3" fill="#000"/>
<circle cx="582" cy="99.6" r="2.3" fill="#000"/>
<circle cx="585" cy="101.9" r="2.3" fill="#000"/>
<circle cx="557" cy="103.4" r="2.3" fill="#000"/>
<circle cx="566.9" cy="103.4" r="2.3" fill="#000"/>
<circle cx="583.5" cy="104.9" r="2.3" fill="#000"/>
<circle cx="594.9" cy="102.6" r="2.3" fill="#000"/>
<circle cx="596.4" cy="104.9" r="2.3" fill="#000"/>
<circle cx="582" cy="108.7" r="2.3" fill="#000"/>
<circle cx="555.5" cy="110.2" r="2.3" fill="#000"/>
<circle cx="587.3" cy="111.7" r="2.3" fill="#000"/>
<circle cx="553.3" cy="123.4" r="2.3" fill="#000"/>
<circle cx="553.3" cy="134.5" r="2.3" fill="#000"/>
<circle cx="561.6" cy="120.1" r="2.3" fill="#000"/>
<circle cx="561.6" cy="124.4" r="2.3" fill="#000"/>
<circle cx="565.4" cy="124.7" r="2.3" fill="#000"/>
<circle cx="569.9" cy="118.9" r="2.3" fill="#000"/>
<circle cx="569.9" cy="126.2" r="2.3" fill="#000"/>
<circle cx="578.2" cy="118.9" r="2.3" fill="#000"/>
<circle cx="578.2" cy="122.4" r="2.3" fill="#000"/>
<circle cx="578.2" cy="124.7" r="2.3" fill="#000"/>
<circle cx="578.2" cy="127.7" r="2.3" fill="#000"/>
<circle cx="578.2" cy="133" r="2.3" fill="#000"/>
<circle cx="579.7" cy="150.1" r="2.3" fill="#000"/>
<circle cx="585" cy="143.1" r="2.3" fill="#000"/>
<circle cx="589.6" cy="115.9" r="2.3" fill="#000"/>
<circle cx="588" cy="120.1" r="2.3" fill="#000"/>
<circle cx="594.9" cy="124.4" r="2.3" fill="#000"/>
<circle cx="594.9" cy="136" r="2.3" fill="#000"/>
<circle cx="594.9" cy="141.3" r="2.3" fill="#000"/>
<circle cx="595.6" cy="147.3" r="2.3" fill="#000"/>
<circle cx="593.3" cy="156.4" r="2.3" fill="#000"/>
<circle cx="598.6" cy="154.1" r="2.3" fill="#000"/>
<circle cx="601.6" cy="81.6" r="2.3" fill="#000"/>
<circle cx="601.9" cy="88.7" r="2.3" fill="#000"/>
<circle cx="606.5" cy="87.2" r="2.3" fill="#000"/>
<circle cx="600.7" cy="97.4" r="2.3" fill="#000"/>
<circle cx="594.4" cy="102.3" r="2.3" fill="#000"/>
<circle cx="597.1" cy="104.6" r="2.3" fill="#000"/>
<circle cx="596.6" cy="105.3" r="2.3" fill="#000"/>
<circle cx="602.4" cy="126.2" r="2.3" fill="#000"/>
<circle cx="601.2" cy="130.7" r="2.3" fill="#000"/>
<circle cx="603.4" cy="132.7" r="2.3" fill="#000"/>
<circle cx="602.4" cy="137.2" r="2.3" fill="#000"/>
<circle cx="611.8" cy="126.2" r="2.3" fill="#000"/>
<circle cx="611.8" cy="132.2" r="2.3" fill="#000"/>
<circle cx="614" cy="132.2" r="2.3" fill="#000"/>
<circle cx="611.8" cy="135.2" r="2.3" fill="#000"/>
<circle cx="611.8" cy="137.5" r="2.3" fill="#000"/>
<circle cx="620.1" cy="133.7" r="2.3" fill="#000"/>
<circle cx="620.1" cy="136" r="2.3" fill="#000"/>
<circle cx="623.9" cy="136" r="2.3" fill="#000"/>
<circle cx="628.4" cy="138.3" r="2.3" fill="#000"/>
<circle cx="644.7" cy="150.4" r="2.3" fill="#000"/>
<circle cx="584.8" cy="143.6" r="2.3" fill="#000"/>
<circle cx="604.2" cy="145.1" r="2.3" fill="#000"/>
<circle cx="602.7" cy="147.3" r="2.3" fill="#000"/>
<circle cx="582.8" cy="108.8" r="2.3" fill="#000"/>
<circle cx="588.3" cy="120.1" r="2.3" fill="#000"/>
<circle cx="575.2" cy="80.1" r="2.3" fill="#000"/>
<circle cx="578.3" cy="80.1" r="2.3" fill="#000"/>
<circle cx="578.9" cy="82.0" r="2.3" fill="#000"/>
<circle cx="577.0" cy="82.6" r="2.3" fill="#000"/>
<circle cx="581.4" cy="84.5" r="2.3" fill="#000"/>
<circle cx="575.2" cy="85.7" r="2.3" fill="#000"/>
<circle cx="571.4" cy="87.6" r="2.3" fill="#000"/>
<circle cx="573.9" cy="89.5" r="2.3" fill="#000"/>
<circle cx="577.7" cy="88.3" r="2.3" fill="#000"/>
<circle cx="578.3" cy="94.6" r="2.3" fill="#000"/>
<circle cx="578.3" cy="97.1" r="2.3" fill="#000"/>
<circle cx="580.2" cy="99.0" r="2.3" fill="#000"/>
<circle cx="583.3" cy="92.0" r="2.3" fill="#000"/>
<line x1="526.9" y1="75.2" x2="645.2" y2="150.3" stroke="#000" stroke-width="1.3"/>
<text x="1.8" y="225.2" font-size="9.8" text-anchor="start">D</text>
<line x1="35.3" y1="382.3" x2="35.3" y2="226.495" stroke="#000" stroke-width="1.35"/>
<line x1="30.599999999999998" y1="381.7" x2="35.9" y2="381.7" stroke="#000" stroke-width="1.35"/>
<text x="28.4" y="384.7" font-size="8.5" text-anchor="end">0</text>
<line x1="30.599999999999998" y1="330.16499999999996" x2="35.9" y2="330.16499999999996" stroke="#000" stroke-width="1.35"/>
<text x="28.4" y="333.16499999999996" font-size="8.5" text-anchor="end">50</text>
<line x1="30.599999999999998" y1="278.63" x2="35.9" y2="278.63" stroke="#000" stroke-width="1.35"/>
<text x="28.4" y="281.63" font-size="8.5" text-anchor="end">100</text>
<line x1="30.599999999999998" y1="227.095" x2="35.9" y2="227.095" stroke="#000" stroke-width="1.35"/>
<text x="28.4" y="230.095" font-size="8.5" text-anchor="end">150</text>
<line x1="32.3" y1="355.9325" x2="35.3" y2="355.9325" stroke="#000" stroke-width="1.35"/>
<line x1="32.3" y1="304.3975" x2="35.3" y2="304.3975" stroke="#000" stroke-width="1.35"/>
<line x1="32.3" y1="252.86249999999998" x2="35.3" y2="252.86249999999998" stroke="#000" stroke-width="1.35"/>
<line x1="34.699999999999996" y1="381.7" x2="113.8" y2="381.7" stroke="#000" stroke-width="1.35"/>
<line x1="57.699999999999996" y1="381.7" x2="57.699999999999996" y2="386.4" stroke="#000" stroke-width="1.35"/>
<line x1="91.0" y1="381.7" x2="91.0" y2="386.4" stroke="#000" stroke-width="1.35"/>
<text x="57.699999999999996" y="396.3" font-size="8.9" text-anchor="middle">NOR</text>
<text x="91.2" y="396.3" font-size="8.8" text-anchor="middle">AST</text>
<text x="9.9" y="304.1" font-size="10.5" text-anchor="middle" transform="rotate(-90 9.9 304.1)">Lactate level, % of NOR</text>
<rect x="47.099999999999994" y="278.63" width="21.200000000000003" height="103.07" fill="#a9bbdb" stroke="#5572b0" stroke-width="1.45"/>
<rect x="80.3" y="311.81854" width="21.400000000000006" height="69.88146" fill="#d8a0a5" stroke="#753540" stroke-width="1.45"/>
<line x1="57.699999999999996" y1="257.70679" x2="57.699999999999996" y2="299.55321" stroke="#000" stroke-width="1.1"/>
<line x1="52.4" y1="257.70679" x2="62.99999999999999" y2="257.70679" stroke="#000" stroke-width="1.1"/>
<line x1="52.4" y1="299.55321" x2="62.99999999999999" y2="299.55321" stroke="#000" stroke-width="1.1"/>
<line x1="91.0" y1="295.1212" x2="91.0" y2="328.1036" stroke="#000" stroke-width="1.1"/>
<line x1="85.7" y1="295.1212" x2="96.3" y2="295.1212" stroke="#000" stroke-width="1.1"/>
<line x1="85.7" y1="328.1036" x2="96.3" y2="328.1036" stroke="#000" stroke-width="1.1"/>
<circle cx="57.6" cy="247.0" r="2.3" fill="#5b7ec0" stroke="#000" stroke-width="0.8"/>
<circle cx="57.6" cy="252.1" r="2.3" fill="#5b7ec0" stroke="#000" stroke-width="0.8"/>
<circle cx="53.1" cy="265.9" r="2.3" fill="#5b7ec0" stroke="#000" stroke-width="0.8"/>
<circle cx="62.7" cy="263.2" r="2.3" fill="#5b7ec0" stroke="#000" stroke-width="0.8"/>
<circle cx="57.6" cy="271.5" r="2.3" fill="#5b7ec0" stroke="#000" stroke-width="0.8"/>
<circle cx="57.6" cy="285.8" r="2.3" fill="#5b7ec0" stroke="#000" stroke-width="0.8"/>
<circle cx="57.6" cy="292.1" r="2.3" fill="#5b7ec0" stroke="#000" stroke-width="0.8"/>
<circle cx="53.1" cy="299.7" r="2.3" fill="#5b7ec0" stroke="#000" stroke-width="0.8"/>
<circle cx="62.7" cy="300.5" r="2.3" fill="#5b7ec0" stroke="#000" stroke-width="0.8"/>
<circle cx="57.6" cy="307.5" r="2.3" fill="#5b7ec0" stroke="#000" stroke-width="0.8"/>
<rect x="80.2" y="292.1" width="4.2" height="4.2" fill="#7b3b45" stroke="#000" stroke-width="0.8"/>
<rect x="89.0" y="293.8" width="4.2" height="4.2" fill="#7b3b45" stroke="#000" stroke-width="0.8"/>
<rect x="97.9" y="291.6" width="4.2" height="4.2" fill="#7b3b45" stroke="#000" stroke-width="0.8"/>
<rect x="80.2" y="298.4" width="4.2" height="4.2" fill="#7b3b45" stroke="#000" stroke-width="0.8"/>
<rect x="89.0" y="302.1" width="4.2" height="4.2" fill="#7b3b45" stroke="#000" stroke-width="0.8"/>
<rect x="80.2" y="311.5" width="4.2" height="4.2" fill="#7b3b45" stroke="#000" stroke-width="0.8"/>
<rect x="89.0" y="313.5" width="4.2" height="4.2" fill="#7b3b45" stroke="#000" stroke-width="0.8"/>
<rect x="89.0" y="325.6" width="4.2" height="4.2" fill="#7b3b45" stroke="#000" stroke-width="0.8"/>
<rect x="80.2" y="329.8" width="4.2" height="4.2" fill="#7b3b45" stroke="#000" stroke-width="0.8"/>
<rect x="97.9" y="329.8" width="4.2" height="4.2" fill="#7b3b45" stroke="#000" stroke-width="0.8"/>
<polyline points="57.8,239.5 57.8,233.4 91.5,233.4 91.5,287.0" fill="none" stroke="#000" stroke-width="1.3"/>
<path d="M66.60,223.75L66.60,229.25M64.22,225.12L68.98,227.88M68.98,225.12L64.22,227.88" stroke="#000" stroke-width="1.0" fill="none"/>
<path d="M73.10,223.75L73.10,229.25M70.72,225.12L75.48,227.88M75.48,225.12L70.72,227.88" stroke="#000" stroke-width="1.0" fill="none"/>
<path d="M79.50,223.75L79.50,229.25M77.12,225.12L81.88,227.88M81.88,225.12L77.12,227.88" stroke="#000" stroke-width="1.0" fill="none"/>
<text x="136.1" y="225.2" font-size="9.8" text-anchor="start">E</text>
<line x1="168.6" y1="382.3" x2="168.6" y2="226.495" stroke="#000" stroke-width="1.35"/>
<line x1="163.9" y1="381.7" x2="169.2" y2="381.7" stroke="#000" stroke-width="1.35"/>
<text x="161.70000000000002" y="384.7" font-size="8.5" text-anchor="end">0</text>
<line x1="163.9" y1="330.16499999999996" x2="169.2" y2="330.16499999999996" stroke="#000" stroke-width="1.35"/>
<text x="161.70000000000002" y="333.16499999999996" font-size="8.5" text-anchor="end">50</text>
<line x1="163.9" y1="278.63" x2="169.2" y2="278.63" stroke="#000" stroke-width="1.35"/>
<text x="161.70000000000002" y="281.63" font-size="8.5" text-anchor="end">100</text>
<line x1="163.9" y1="227.095" x2="169.2" y2="227.095" stroke="#000" stroke-width="1.35"/>
<text x="161.70000000000002" y="230.095" font-size="8.5" text-anchor="end">150</text>
<line x1="165.6" y1="355.9325" x2="168.6" y2="355.9325" stroke="#000" stroke-width="1.35"/>
<line x1="165.6" y1="304.3975" x2="168.6" y2="304.3975" stroke="#000" stroke-width="1.35"/>
<line x1="165.6" y1="252.86249999999998" x2="168.6" y2="252.86249999999998" stroke="#000" stroke-width="1.35"/>
<line x1="168.0" y1="381.7" x2="245.6" y2="381.7" stroke="#000" stroke-width="1.35"/>
<line x1="191.0" y1="381.7" x2="191.0" y2="386.4" stroke="#000" stroke-width="1.35"/>
<line x1="224.3" y1="381.7" x2="224.3" y2="386.4" stroke="#000" stroke-width="1.35"/>
<text x="191.0" y="396.3" font-size="8.9" text-anchor="middle">NOR</text>
<text x="224.5" y="396.3" font-size="8.8" text-anchor="middle">AST</text>
<text x="142.8" y="304.1" font-size="10.5" text-anchor="middle" transform="rotate(-90 142.8 304.1)">ATP level, % of NOR</text>
<rect x="180.4" y="278.63" width="21.19999999999999" height="103.07" fill="#a9bbdb" stroke="#5572b0" stroke-width="1.45"/>
<rect x="213.60000000000002" y="298.62558" width="21.399999999999977" height="83.07441999999998" fill="#d8a0a5" stroke="#753540" stroke-width="1.45"/>
<line x1="191.0" y1="257.70679" x2="191.0" y2="299.55321" stroke="#000" stroke-width="1.1"/>
<line x1="185.7" y1="257.70679" x2="196.3" y2="257.70679" stroke="#000" stroke-width="1.1"/>
<line x1="185.7" y1="299.55321" x2="196.3" y2="299.55321" stroke="#000" stroke-width="1.1"/>
<line x1="224.3" y1="279.6607" x2="224.3" y2="315.73519999999996" stroke="#000" stroke-width="1.1"/>
<line x1="219.0" y1="279.6607" x2="229.60000000000002" y2="279.6607" stroke="#000" stroke-width="1.1"/>
<line x1="219.0" y1="315.73519999999996" x2="229.60000000000002" y2="315.73519999999996" stroke="#000" stroke-width="1.1"/>
<circle cx="181.9" cy="249.3" r="2.3" fill="#5b7ec0" stroke="#000" stroke-width="0.8"/>
<circle cx="190.7" cy="252.6" r="2.3" fill="#5b7ec0" stroke="#000" stroke-width="0.8"/>
<circle cx="190.7" cy="260.1" r="2.3" fill="#5b7ec0" stroke="#000" stroke-width="0.8"/>
<circle cx="190.7" cy="266.2" r="2.3" fill="#5b7ec0" stroke="#000" stroke-width="0.8"/>
<circle cx="190.7" cy="275.7" r="2.3" fill="#5b7ec0" stroke="#000" stroke-width="0.8"/>
<circle cx="190.7" cy="284.0" r="2.3" fill="#5b7ec0" stroke="#000" stroke-width="0.8"/>
<circle cx="181.9" cy="294.6" r="2.3" fill="#5b7ec0" stroke="#000" stroke-width="0.8"/>
<circle cx="190.7" cy="299.4" r="2.3" fill="#5b7ec0" stroke="#000" stroke-width="0.8"/>
<circle cx="199.5" cy="298.4" r="2.3" fill="#5b7ec0" stroke="#000" stroke-width="0.8"/>
<circle cx="190.7" cy="306.7" r="2.3" fill="#5b7ec0" stroke="#000" stroke-width="0.8"/>
<rect x="222.1" y="253.0" width="4.2" height="4.2" fill="#7b3b45" stroke="#000" stroke-width="0.8"/>
<rect x="222.1" y="281.9" width="4.2" height="4.2" fill="#7b3b45" stroke="#000" stroke-width="0.8"/>
<rect x="212.7" y="288.2" width="4.2" height="4.2" fill="#7b3b45" stroke="#000" stroke-width="0.8"/>
<rect x="222.1" y="292.0" width="4.2" height="4.2" fill="#7b3b45" stroke="#000" stroke-width="0.8"/>
<rect x="212.7" y="300.8" width="4.2" height="4.2" fill="#7b3b45" stroke="#000" stroke-width="0.8"/>
<rect x="222.1" y="299.0" width="4.2" height="4.2" fill="#7b3b45" stroke="#000" stroke-width="0.8"/>
<rect x="230.9" y="303.8" width="4.2" height="4.2" fill="#7b3b45" stroke="#000" stroke-width="0.8"/>
<rect x="222.1" y="310.1" width="4.2" height="4.2" fill="#7b3b45" stroke="#000" stroke-width="0.8"/>
<rect x="212.7" y="314.1" width="4.2" height="4.2" fill="#7b3b45" stroke="#000" stroke-width="0.8"/>
<rect x="230.9" y="312.6" width="4.2" height="4.2" fill="#7b3b45" stroke="#000" stroke-width="0.8"/>
<polyline points="189.9,241.8 189.9,235.6 223.9,235.6 223.9,247.4" fill="none" stroke="#000" stroke-width="1.3"/>
<path d="M207.30,223.75L207.30,229.25M204.92,225.12L209.68,227.88M209.68,225.12L204.92,227.88" stroke="#000" stroke-width="1.0" fill="none"/>
<text x="276.2" y="224.8" font-size="9.6" text-anchor="start">F</text>
<line x1="312.2" y1="381.8" x2="312.2" y2="225.79999999999998" stroke="#000" stroke-width="1.35"/>
<line x1="307.4" y1="381.2" x2="312.8" y2="381.2" stroke="#000" stroke-width="1.35"/>
<text x="306.0" y="384.2" font-size="8.5" text-anchor="end">0</text>
<line x1="307.4" y1="329.59999999999997" x2="312.8" y2="329.59999999999997" stroke="#000" stroke-width="1.35"/>
<text x="306.0" y="332.59999999999997" font-size="8.5" text-anchor="end">1</text>
<line x1="307.4" y1="278.0" x2="312.8" y2="278.0" stroke="#000" stroke-width="1.35"/>
<text x="306.0" y="281.0" font-size="8.5" text-anchor="end">2</text>
<line x1="307.4" y1="226.39999999999998" x2="312.8" y2="226.39999999999998" stroke="#000" stroke-width="1.35"/>
<text x="306.0" y="229.39999999999998" font-size="8.5" text-anchor="end">3</text>
<line x1="309.0" y1="355.4" x2="312.2" y2="355.4" stroke="#000" stroke-width="1.35"/>
<line x1="309.0" y1="303.79999999999995" x2="312.2" y2="303.79999999999995" stroke="#000" stroke-width="1.35"/>
<line x1="309.0" y1="252.2" x2="312.2" y2="252.2" stroke="#000" stroke-width="1.35"/>
<line x1="311.59999999999997" y1="381.2" x2="432.7" y2="381.2" stroke="#000" stroke-width="1.35"/>
<line x1="346.8" y1="381.2" x2="346.8" y2="385.8" stroke="#000" stroke-width="1.35"/>
<line x1="398.2" y1="381.2" x2="398.2" y2="385.8" stroke="#000" stroke-width="1.35"/>
<text x="346.8" y="396.3" font-size="8.9" text-anchor="middle">NOR</text>
<text x="397.6" y="396.3" font-size="8.8" text-anchor="middle">AST</text>
<text x="284.5" y="304.0" font-size="10.5" text-anchor="middle" transform="rotate(-90 284.5 304.0)">Relative SIRT5 level</text>
<text x="297.9" y="304.2" font-size="10.7" text-anchor="middle" transform="rotate(-90 297.9 304.2)">(of NOR)</text>
<rect x="330.5" y="329.59999999999997" width="32.60000000000002" height="51.60000000000002" fill="#a9bbdb" stroke="#5572b0" stroke-width="1.45"/>
<rect x="381.9" y="345.854" width="32.60000000000002" height="35.346000000000004" fill="#d8a0a5" stroke="#753540" stroke-width="1.45"/>
<line x1="346.7" y1="347.65999999999997" x2="346.7" y2="309.99199999999996" stroke="#222" stroke-width="0.9"/>
<line x1="398.2" y1="359.52799999999996" x2="398.2" y2="331.664" stroke="#444" stroke-width="0.9"/>
<circle cx="336.3" cy="291.5" r="2.5" fill="#5b7ec0" stroke="#000" stroke-width="0.75"/>
<circle cx="344.5" cy="291.0" r="2.5" fill="#5b7ec0" stroke="#000" stroke-width="0.75"/>
<circle cx="348.9" cy="292.3" r="2.5" fill="#5b7ec0" stroke="#000" stroke-width="0.75"/>
<circle cx="353.3" cy="293.8" r="2.5" fill="#5b7ec0" stroke="#000" stroke-width="0.75"/>
<circle cx="357.5" cy="293.8" r="2.5" fill="#5b7ec0" stroke="#000" stroke-width="0.75"/>
<circle cx="344.5" cy="298.2" r="2.5" fill="#5b7ec0" stroke="#000" stroke-width="0.75"/>
<circle cx="348.9" cy="298.2" r="2.5" fill="#5b7ec0" stroke="#000" stroke-width="0.75"/>
<circle cx="361.5" cy="307.0" r="2.5" fill="#5b7ec0" stroke="#000" stroke-width="0.75"/>
<circle cx="331.9" cy="308.3" r="2.5" fill="#5b7ec0" stroke="#000" stroke-width="0.75"/>
<circle cx="336.3" cy="308.7" r="2.5" fill="#5b7ec0" stroke="#000" stroke-width="0.75"/>
<circle cx="340.1" cy="311.4" r="2.5" fill="#5b7ec0" stroke="#000" stroke-width="0.75"/>
<circle cx="344.5" cy="309.9" r="2.5" fill="#5b7ec0" stroke="#000" stroke-width="0.75"/>
<circle cx="348.9" cy="310.2" r="2.5" fill="#5b7ec0" stroke="#000" stroke-width="0.75"/>
<circle cx="353.3" cy="310.8" r="2.5" fill="#5b7ec0" stroke="#000" stroke-width="0.75"/>
<circle cx="357.5" cy="310.8" r="2.5" fill="#5b7ec0" stroke="#000" stroke-width="0.75"/>
<circle cx="348.9" cy="315.2" r="2.5" fill="#5b7ec0" stroke="#000" stroke-width="0.75"/>
<circle cx="340.1" cy="318.4" r="2.5" fill="#5b7ec0" stroke="#000" stroke-width="0.75"/>
<circle cx="344.5" cy="320.3" r="2.5" fill="#5b7ec0" stroke="#000" stroke-width="0.75"/>
<circle cx="348.9" cy="321.5" r="2.5" fill="#5b7ec0" stroke="#000" stroke-width="0.75"/>
<circle cx="357.5" cy="319.6" r="2.5" fill="#5b7ec0" stroke="#000" stroke-width="0.75"/>
<circle cx="340.1" cy="324.3" r="2.5" fill="#5b7ec0" stroke="#000" stroke-width="0.75"/>
<circle cx="344.5" cy="326.0" r="2.5" fill="#5b7ec0" stroke="#000" stroke-width="0.75"/>
<circle cx="353.3" cy="324.0" r="2.5" fill="#5b7ec0" stroke="#000" stroke-width="0.75"/>
<circle cx="348.9" cy="327.8" r="2.5" fill="#5b7ec0" stroke="#000" stroke-width="0.75"/>
<circle cx="357.5" cy="328.1" r="2.5" fill="#5b7ec0" stroke="#000" stroke-width="0.75"/>
<circle cx="336.3" cy="330.3" r="2.5" fill="#5b7ec0" stroke="#000" stroke-width="0.75"/>
<circle cx="340.4" cy="329.8" r="2.5" fill="#5b7ec0" stroke="#000" stroke-width="0.75"/>
<circle cx="340.4" cy="334.4" r="2.5" fill="#5b7ec0" stroke="#000" stroke-width="0.75"/>
<circle cx="344.5" cy="333.2" r="2.5" fill="#5b7ec0" stroke="#000" stroke-width="0.75"/>
<circle cx="348.9" cy="333.6" r="2.5" fill="#5b7ec0" stroke="#000" stroke-width="0.75"/>
<circle cx="353.3" cy="333.6" r="2.5" fill="#5b7ec0" stroke="#000" stroke-width="0.75"/>
<circle cx="336.3" cy="337.0" r="2.5" fill="#5b7ec0" stroke="#000" stroke-width="0.75"/>
<circle cx="340.4" cy="340.7" r="2.5" fill="#5b7ec0" stroke="#000" stroke-width="0.75"/>
<circle cx="344.5" cy="340.7" r="2.5" fill="#5b7ec0" stroke="#000" stroke-width="0.75"/>
<circle cx="348.9" cy="339.5" r="2.5" fill="#5b7ec0" stroke="#000" stroke-width="0.75"/>
<circle cx="353.3" cy="337.6" r="2.5" fill="#5b7ec0" stroke="#000" stroke-width="0.75"/>
<circle cx="357.5" cy="336.3" r="2.5" fill="#5b7ec0" stroke="#000" stroke-width="0.75"/>
<circle cx="331.9" cy="348.3" r="2.5" fill="#5b7ec0" stroke="#000" stroke-width="0.75"/>
<circle cx="344.5" cy="348.7" r="2.5" fill="#5b7ec0" stroke="#000" stroke-width="0.75"/>
<circle cx="353.3" cy="347.0" r="2.5" fill="#5b7ec0" stroke="#000" stroke-width="0.75"/>
<circle cx="357.5" cy="348.3" r="2.5" fill="#5b7ec0" stroke="#000" stroke-width="0.75"/>
<circle cx="361.5" cy="349.6" r="2.5" fill="#5b7ec0" stroke="#000" stroke-width="0.75"/>
<circle cx="340.4" cy="352.1" r="2.5" fill="#5b7ec0" stroke="#000" stroke-width="0.75"/>
<circle cx="348.9" cy="352.7" r="2.5" fill="#5b7ec0" stroke="#000" stroke-width="0.75"/>
<circle cx="353.3" cy="352.1" r="2.5" fill="#5b7ec0" stroke="#000" stroke-width="0.75"/>
<circle cx="344.5" cy="355.2" r="2.5" fill="#5b7ec0" stroke="#000" stroke-width="0.75"/>
<circle cx="336.3" cy="359.0" r="2.5" fill="#5b7ec0" stroke="#000" stroke-width="0.75"/>
<circle cx="344.5" cy="360.3" r="2.5" fill="#5b7ec0" stroke="#000" stroke-width="0.75"/>
<circle cx="348.9" cy="358.0" r="2.5" fill="#5b7ec0" stroke="#000" stroke-width="0.75"/>
<circle cx="357.5" cy="357.1" r="2.5" fill="#5b7ec0" stroke="#000" stroke-width="0.75"/>
<circle cx="353.3" cy="361.5" r="2.5" fill="#5b7ec0" stroke="#000" stroke-width="0.75"/>
<circle cx="340.4" cy="364.7" r="2.5" fill="#5b7ec0" stroke="#000" stroke-width="0.75"/>
<circle cx="348.9" cy="364.0" r="2.5" fill="#5b7ec0" stroke="#000" stroke-width="0.75"/>
<rect x="391.0" y="314.7" width="4.6" height="4.6" fill="#7b3b45" stroke="#000" stroke-width="0.8"/>
<rect x="396.0" y="316.8" width="4.6" height="4.6" fill="#7b3b45" stroke="#000" stroke-width="0.8"/>
<rect x="401.0" y="319.7" width="4.6" height="4.6" fill="#7b3b45" stroke="#000" stroke-width="0.8"/>
<rect x="381.3" y="324.8" width="4.6" height="4.6" fill="#7b3b45" stroke="#000" stroke-width="0.8"/>
<rect x="385.9" y="326.0" width="4.6" height="4.6" fill="#7b3b45" stroke="#000" stroke-width="0.8"/>
<rect x="391.0" y="327.9" width="4.6" height="4.6" fill="#7b3b45" stroke="#000" stroke-width="0.8"/>
<rect x="396.0" y="325.7" width="4.6" height="4.6" fill="#7b3b45" stroke="#000" stroke-width="0.8"/>
<rect x="401.0" y="324.8" width="4.6" height="4.6" fill="#7b3b45" stroke="#000" stroke-width="0.8"/>
<rect x="405.7" y="326.4" width="4.6" height="4.6" fill="#7b3b45" stroke="#000" stroke-width="0.8"/>
<rect x="410.7" y="328.2" width="4.6" height="4.6" fill="#7b3b45" stroke="#000" stroke-width="0.8"/>
<rect x="381.3" y="329.8" width="4.6" height="4.6" fill="#7b3b45" stroke="#000" stroke-width="0.8"/>
<rect x="385.9" y="331.5" width="4.6" height="4.6" fill="#7b3b45" stroke="#000" stroke-width="0.8"/>
<rect x="391.0" y="332.7" width="4.6" height="4.6" fill="#7b3b45" stroke="#000" stroke-width="0.8"/>
<rect x="396.0" y="330.7" width="4.6" height="4.6" fill="#7b3b45" stroke="#000" stroke-width="0.8"/>
<rect x="401.0" y="332.0" width="4.6" height="4.6" fill="#7b3b45" stroke="#000" stroke-width="0.8"/>
<rect x="405.7" y="331.5" width="4.6" height="4.6" fill="#7b3b45" stroke="#000" stroke-width="0.8"/>
<rect x="385.9" y="338.0" width="4.6" height="4.6" fill="#7b3b45" stroke="#000" stroke-width="0.8"/>
<rect x="391.0" y="340.5" width="4.6" height="4.6" fill="#7b3b45" stroke="#000" stroke-width="0.8"/>
<rect x="396.0" y="339.9" width="4.6" height="4.6" fill="#7b3b45" stroke="#000" stroke-width="0.8"/>
<rect x="401.0" y="339.3" width="4.6" height="4.6" fill="#7b3b45" stroke="#000" stroke-width="0.8"/>
<rect x="405.7" y="338.3" width="4.6" height="4.6" fill="#7b3b45" stroke="#000" stroke-width="0.8"/>
<rect x="381.3" y="345.2" width="4.6" height="4.6" fill="#7b3b45" stroke="#000" stroke-width="0.8"/>
<rect x="385.9" y="346.7" width="4.6" height="4.6" fill="#7b3b45" stroke="#000" stroke-width="0.8"/>
<rect x="391.0" y="346.7" width="4.6" height="4.6" fill="#7b3b45" stroke="#000" stroke-width="0.8"/>
<rect x="401.0" y="346.4" width="4.6" height="4.6" fill="#7b3b45" stroke="#000" stroke-width="0.8"/>
<rect x="405.7" y="345.7" width="4.6" height="4.6" fill="#7b3b45" stroke="#000" stroke-width="0.8"/>
<rect x="410.7" y="346.4" width="4.6" height="4.6" fill="#7b3b45" stroke="#000" stroke-width="0.8"/>
<rect x="405.7" y="349.7" width="4.6" height="4.6" fill="#7b3b45" stroke="#000" stroke-width="0.8"/>
<rect x="410.7" y="351.8" width="4.6" height="4.6" fill="#7b3b45" stroke="#000" stroke-width="0.8"/>
<rect x="396.0" y="352.2" width="4.6" height="4.6" fill="#7b3b45" stroke="#000" stroke-width="0.8"/>
<rect x="385.9" y="355.3" width="4.6" height="4.6" fill="#7b3b45" stroke="#000" stroke-width="0.8"/>
<rect x="391.0" y="354.7" width="4.6" height="4.6" fill="#7b3b45" stroke="#000" stroke-width="0.8"/>
<rect x="401.0" y="356.3" width="4.6" height="4.6" fill="#7b3b45" stroke="#000" stroke-width="0.8"/>
<rect x="405.7" y="356.0" width="4.6" height="4.6" fill="#7b3b45" stroke="#000" stroke-width="0.8"/>
<rect x="391.0" y="359.1" width="4.6" height="4.6" fill="#7b3b45" stroke="#000" stroke-width="0.8"/>
<rect x="396.0" y="361.4" width="4.6" height="4.6" fill="#7b3b45" stroke="#000" stroke-width="0.8"/>
<rect x="401.0" y="362.9" width="4.6" height="4.6" fill="#7b3b45" stroke="#000" stroke-width="0.8"/>
<rect x="391.0" y="364.8" width="4.6" height="4.6" fill="#7b3b45" stroke="#000" stroke-width="0.8"/>
<rect x="385.9" y="371.1" width="4.6" height="4.6" fill="#7b3b45" stroke="#000" stroke-width="0.8"/>
<rect x="396.0" y="370.4" width="4.6" height="4.6" fill="#7b3b45" stroke="#000" stroke-width="0.8"/>
<rect x="401.0" y="369.2" width="4.6" height="4.6" fill="#7b3b45" stroke="#000" stroke-width="0.8"/>
<rect x="405.7" y="371.7" width="4.6" height="4.6" fill="#7b3b45" stroke="#000" stroke-width="0.8"/>
<polyline points="346.5,241.3 346.5,234.5 398.3,234.5 398.3,267.4" fill="none" stroke="#000" stroke-width="1.3"/>
<path d="M366.00,224.75L366.00,230.25M363.62,226.12L368.38,228.88M368.38,226.12L363.62,228.88" stroke="#000" stroke-width="1.0" fill="none"/>
<path d="M372.40,224.75L372.40,230.25M370.02,226.12L374.78,228.88M374.78,226.12L370.02,228.88" stroke="#000" stroke-width="1.0" fill="none"/>
<path d="M378.80,224.75L378.80,230.25M376.42,226.12L381.18,228.88M381.18,226.12L376.42,228.88" stroke="#000" stroke-width="1.0" fill="none"/>
<text x="347.1" y="284.4" font-size="8.87" text-anchor="middle">n = 53</text>
<text x="397.6" y="308.8" font-size="8.64" text-anchor="middle">n = 41</text>
<text x="462.7" y="225.4" font-size="9.6" text-anchor="start">G</text>
<line x1="494.3" y1="371.0" x2="494.3" y2="227.29999999999998" stroke="#000" stroke-width="1.35"/>
<line x1="491.3" y1="370.4" x2="494.90000000000003" y2="370.4" stroke="#000" stroke-width="1.35"/>
<text x="489.5" y="373.4" font-size="8.5" text-anchor="end">0.0</text>
<line x1="491.3" y1="341.9" x2="494.90000000000003" y2="341.9" stroke="#000" stroke-width="1.35"/>
<text x="489.5" y="344.9" font-size="8.5" text-anchor="end">0.5</text>
<line x1="491.3" y1="313.4" x2="494.90000000000003" y2="313.4" stroke="#000" stroke-width="1.35"/>
<text x="489.5" y="316.4" font-size="8.5" text-anchor="end">1.0</text>
<line x1="491.3" y1="284.9" x2="494.90000000000003" y2="284.9" stroke="#000" stroke-width="1.35"/>
<text x="489.5" y="287.9" font-size="8.5" text-anchor="end">1.5</text>
<line x1="491.3" y1="256.4" x2="494.90000000000003" y2="256.4" stroke="#000" stroke-width="1.35"/>
<text x="489.5" y="259.4" font-size="8.5" text-anchor="end">2.0</text>
<line x1="491.3" y1="227.89999999999998" x2="494.90000000000003" y2="227.89999999999998" stroke="#000" stroke-width="1.35"/>
<text x="489.5" y="230.89999999999998" font-size="8.5" text-anchor="end">2.5</text>
<line x1="493.7" y1="370.4" x2="678.4" y2="370.4" stroke="#000" stroke-width="1.35"/>
<line x1="494.6" y1="370.4" x2="494.6" y2="374.0" stroke="#000" stroke-width="1.35"/>
<text x="494.6" y="383.7" font-size="8.5" text-anchor="middle">0.0</text>
<line x1="540.475" y1="370.4" x2="540.475" y2="374.0" stroke="#000" stroke-width="1.35"/>
<text x="540.475" y="383.7" font-size="8.5" text-anchor="middle">0.5</text>
<line x1="586.35" y1="370.4" x2="586.35" y2="374.0" stroke="#000" stroke-width="1.35"/>
<text x="586.35" y="383.7" font-size="8.5" text-anchor="middle">1.0</text>
<line x1="632.225" y1="370.4" x2="632.225" y2="374.0" stroke="#000" stroke-width="1.35"/>
<text x="632.225" y="383.7" font-size="8.5" text-anchor="middle">1.5</text>
<line x1="678.1" y1="370.4" x2="678.1" y2="374.0" stroke="#000" stroke-width="1.35"/>
<text x="678.1" y="383.7" font-size="8.5" text-anchor="middle">2.0</text>
<text x="586.5" y="394.6" font-size="10.2" text-anchor="middle">Relative SIRT5 level</text>
<text x="472.4" y="299.3" font-size="10.1" text-anchor="middle" transform="rotate(-90 472.4 299.3)">Relative Kmal level</text>
<text x="513.4" y="232.4" font-size="8.8" font-style="italic">r</text>
<text x="517.3" y="229.1" font-size="5.8">2</text>
<text x="521.4" y="232.4" font-size="8.8">=</text>
<text x="529.0" y="232.4" font-size="8.8">0.319</text>
<text x="512.8" y="241.8" font-size="8.8" font-style="italic">p</text>
<polyline points="528.0,236.4 522.0,238.9 528.0,241.4" fill="none" stroke="#000" stroke-width="0.95"/>
<text x="529.8" y="241.8" font-size="8.8">0.001</text>
<circle cx="507.5" cy="254" r="2.3" fill="#000"/>
<circle cx="511.1" cy="267.1" r="2.3" fill="#000"/>
<circle cx="506.7" cy="286.7" r="2.3" fill="#000"/>
<circle cx="509.1" cy="291.7" r="2.3" fill="#000"/>
<circle cx="525.2" cy="280.2" r="2.3" fill="#000"/>
<circle cx="522.2" cy="288.3" r="2.3" fill="#000"/>
<circle cx="519.2" cy="296.7" r="2.3" fill="#000"/>
<circle cx="524.8" cy="300.4" r="2.3" fill="#000"/>
<circle cx="528.9" cy="300.4" r="2.3" fill="#000"/>
<circle cx="523.8" cy="304.8" r="2.3" fill="#000"/>
<circle cx="530.9" cy="305.4" r="2.3" fill="#000"/>
<circle cx="532.3" cy="308.4" r="2.3" fill="#000"/>
<circle cx="537.3" cy="279.8" r="2.3" fill="#000"/>
<circle cx="542.4" cy="278.6" r="2.3" fill="#000"/>
<circle cx="541.3" cy="283.9" r="2.3" fill="#000"/>
<circle cx="535.7" cy="287.3" r="2.3" fill="#000"/>
<circle cx="534.5" cy="292.3" r="2.3" fill="#000"/>
<circle cx="537.3" cy="303.4" r="2.3" fill="#000"/>
<circle cx="540.9" cy="303.4" r="2.3" fill="#000"/>
<circle cx="535.3" cy="312.5" r="2.3" fill="#000"/>
<circle cx="545.4" cy="306" r="2.3" fill="#000"/>
<circle cx="545" cy="315.5" r="2.3" fill="#000"/>
<circle cx="550.4" cy="319.1" r="2.3" fill="#000"/>
<circle cx="551.8" cy="273.6" r="2.3" fill="#000"/>
<circle cx="551" cy="280.2" r="2.3" fill="#000"/>
<circle cx="546.4" cy="287.3" r="2.3" fill="#000"/>
<circle cx="552.4" cy="286.3" r="2.3" fill="#000"/>
<circle cx="553.4" cy="288.3" r="2.3" fill="#000"/>
<circle cx="555.5" cy="287.9" r="2.3" fill="#000"/>
<circle cx="552.4" cy="290.3" r="2.3" fill="#000"/>
<circle cx="551.8" cy="301.4" r="2.3" fill="#000"/>
<circle cx="553.8" cy="306" r="2.3" fill="#000"/>
<circle cx="563.9" cy="270.2" r="2.3" fill="#000"/>
<circle cx="562.5" cy="287.3" r="2.3" fill="#000"/>
<circle cx="566.9" cy="287.3" r="2.3" fill="#000"/>
<circle cx="565.5" cy="298.4" r="2.3" fill="#000"/>
<circle cx="563.5" cy="306" r="2.3" fill="#000"/>
<circle cx="567.5" cy="306" r="2.3" fill="#000"/>
<circle cx="569.2" cy="310.5" r="2.3" fill="#000"/>
<circle cx="566.5" cy="325.6" r="2.3" fill="#000"/>
<circle cx="572.6" cy="306" r="2.3" fill="#000"/>
<circle cx="574.6" cy="273.8" r="2.3" fill="#000"/>
<circle cx="576" cy="273.6" r="2.3" fill="#000"/>
<circle cx="600.2" cy="280.2" r="2.3" fill="#000"/>
<circle cx="578.5" cy="293.3" r="2.3" fill="#000"/>
<circle cx="583.7" cy="292.9" r="2.3" fill="#000"/>
<circle cx="588.5" cy="292.9" r="2.3" fill="#000"/>
<circle cx="590.6" cy="294.3" r="2.3" fill="#000"/>
<circle cx="591.8" cy="298.8" r="2.3" fill="#000"/>
<circle cx="577.7" cy="302" r="2.3" fill="#000"/>
<circle cx="573" cy="305.8" r="2.3" fill="#000"/>
<circle cx="582.1" cy="306" r="2.3" fill="#000"/>
<circle cx="586.1" cy="306" r="2.3" fill="#000"/>
<circle cx="584.1" cy="310.5" r="2.3" fill="#000"/>
<circle cx="588.1" cy="312.5" r="2.3" fill="#000"/>
<circle cx="584.5" cy="314.1" r="2.3" fill="#000"/>
<circle cx="596.2" cy="309" r="2.3" fill="#000"/>
<circle cx="603.9" cy="302.8" r="2.3" fill="#000"/>
<circle cx="604.7" cy="306" r="2.3" fill="#000"/>
<circle cx="607.9" cy="306" r="2.3" fill="#000"/>
<circle cx="623.4" cy="292.9" r="2.3" fill="#000"/>
<circle cx="623.4" cy="303.8" r="2.3" fill="#000"/>
<circle cx="620" cy="309.4" r="2.3" fill="#000"/>
<circle cx="620" cy="315.1" r="2.3" fill="#000"/>
<circle cx="590.2" cy="318.9" r="2.3" fill="#000"/>
<circle cx="595.8" cy="318.9" r="2.3" fill="#000"/>
<circle cx="580.1" cy="320.5" r="2.3" fill="#000"/>
<circle cx="579.7" cy="323" r="2.3" fill="#000"/>
<circle cx="589.1" cy="326.6" r="2.3" fill="#000"/>
<circle cx="601.2" cy="325.6" r="2.3" fill="#000"/>
<circle cx="603.2" cy="325.6" r="2.3" fill="#000"/>
<circle cx="611.9" cy="325.6" r="2.3" fill="#000"/>
<circle cx="641.5" cy="325.6" r="2.3" fill="#000"/>
<circle cx="648.6" cy="304.8" r="2.3" fill="#000"/>
<circle cx="618.5" cy="335.7" r="2.3" fill="#000"/>
<circle cx="626.1" cy="334.6" r="2.3" fill="#000"/>
<circle cx="621.3" cy="341.4" r="2.3" fill="#000"/>
<circle cx="620.4" cy="344" r="2.3" fill="#000"/>
<circle cx="641.7" cy="333.3" r="2.3" fill="#000"/>
<circle cx="649.7" cy="305" r="2.3" fill="#000"/>
<circle cx="653.1" cy="309.7" r="2.3" fill="#000"/>
<circle cx="654.4" cy="312.5" r="2.3" fill="#000"/>
<circle cx="654" cy="323.8" r="2.3" fill="#000"/>
<circle cx="649.7" cy="328" r="2.3" fill="#000"/>
<circle cx="535.7" cy="312.3" r="2.3" fill="#000"/>
<circle cx="544.8" cy="315.7" r="2.3" fill="#000"/>
<circle cx="569" cy="310.8" r="2.3" fill="#000"/>
<circle cx="580.6" cy="320.3" r="2.3" fill="#000"/>
<circle cx="579.1" cy="331.1" r="2.3" fill="#000"/>
<circle cx="577.6" cy="335.7" r="2.3" fill="#000"/>
<circle cx="573" cy="338.4" r="2.3" fill="#000"/>
<circle cx="590.1" cy="318.8" r="2.3" fill="#000"/>
<circle cx="588.9" cy="326.6" r="2.3" fill="#000"/>
<circle cx="590.1" cy="339.5" r="2.3" fill="#000"/>
<circle cx="605.5" cy="344.7" r="2.3" fill="#000"/>
<circle cx="584.4" cy="313" r="2.3" fill="#000"/>
<circle cx="587.4" cy="312.7" r="2.3" fill="#000"/>
<line x1="506.7" y1="285.9" x2="653.8" y2="326.7" stroke="#000" stroke-width="1.3"/>
</svg></body></html>
